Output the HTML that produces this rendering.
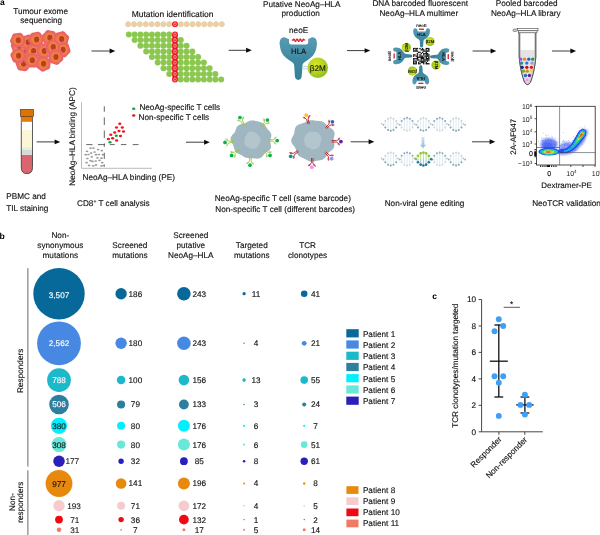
<!DOCTYPE html>
<html><head><meta charset="utf-8"><title>Figure</title>
<style>
html,body{margin:0;padding:0;background:#fff;}
body{width:600px;height:535px;overflow:hidden;font-family:"Liberation Sans",sans-serif;}
svg{display:block;font-family:"Liberation Sans",sans-serif;}
</style></head><body>
<svg width="600" height="535" viewBox="0 0 600 535" text-rendering="geometricPrecision">
<rect width="600" height="535" fill="#fff"/>
<g style="opacity:0.9999">
<defs>
<radialGradient id="tc" cx="50%" cy="50%" r="50%">
<stop offset="0" stop-color="#f4923a"/><stop offset="0.45" stop-color="#f2823f"/><stop offset="0.72" stop-color="#ec6a58"/><stop offset="0.9" stop-color="#e85d6b"/><stop offset="1" stop-color="#ee7c88"/>
</radialGradient>
<linearGradient id="hla" x1="0" y1="0" x2="0" y2="1">
<stop offset="0" stop-color="#5a9cb2"/><stop offset="0.5" stop-color="#3f8aa3"/><stop offset="1" stop-color="#357f99"/>
</linearGradient>
<radialGradient id="b2m" cx="40%" cy="35%" r="65%">
<stop offset="0" stop-color="#d6e62a"/><stop offset="0.6" stop-color="#b4d322"/><stop offset="1" stop-color="#8fbf1f"/>
</radialGradient>
<linearGradient id="darr" x1="0" y1="0" x2="0" y2="1">
<stop offset="0" stop-color="#d4e4f4"/><stop offset="1" stop-color="#8fb8e0"/>
</linearGradient>
<filter id="bl1" x="-30%" y="-30%" width="160%" height="160%"><feGaussianBlur stdDeviation="0.6"/></filter>
<filter id="bl2" x="-30%" y="-30%" width="160%" height="160%"><feGaussianBlur stdDeviation="1.2"/></filter>
<filter id="bl4" x="-10%" y="-30%" width="120%" height="160%"><feGaussianBlur stdDeviation="0.5"/></filter>
<filter id="bl3" x="-30%" y="-30%" width="160%" height="160%"><feGaussianBlur stdDeviation="0.35"/></filter>

</defs>
<text x="0" y="4.7" font-size="8.5" text-anchor="start" fill="#000" stroke="#000" stroke-width="0" font-weight="bold" >a</text>
<text x="40.6" y="14.2" font-size="8.2" text-anchor="middle" fill="#111" stroke="#111" stroke-width="0.14" font-weight="normal" >Tumour exome</text>
<text x="41.2" y="23.3" font-size="8.2" text-anchor="middle" fill="#111" stroke="#111" stroke-width="0.14" font-weight="normal" >sequencing</text>
<path d="M33.51,50.50 L33.08,51.70 L32.42,52.75 L31.87,53.75 L31.48,54.84 L31.02,56.02 L30.23,57.01 L29.10,57.56 L27.83,57.66 L26.63,57.61 L25.50,57.69 L24.32,57.93 L23.05,58.03 L21.84,57.67 L20.91,56.82 L20.27,55.73 L19.72,54.70 L19.02,53.80 L18.21,52.87 L17.59,51.75 L17.49,50.50 L17.92,49.30 L18.58,48.25 L19.13,47.25 L19.52,46.16 L19.98,44.98 L20.77,43.99 L21.90,43.44 L23.17,43.34 L24.37,43.39 L25.50,43.31 L26.68,43.07 L27.95,42.97 L29.16,43.33 L30.09,44.18 L30.73,45.27 L31.28,46.30 L31.98,47.20 L32.79,48.13 L33.41,49.25Z" fill="url(#tc)" filter="url(#bl3)"/>
<ellipse cx="25.8" cy="50.5" rx="2.6" ry="3" fill="#b9401f" filter="url(#bl3)"/>
<path d="M46.77,57.50 L46.73,58.76 L46.16,59.89 L45.33,60.83 L44.58,61.70 L43.99,62.69 L43.35,63.76 L42.45,64.66 L41.26,65.08 L39.99,65.00 L38.80,64.73 L37.68,64.58 L36.49,64.60 L35.23,64.51 L34.06,64.02 L33.24,63.06 L32.77,61.88 L32.42,60.75 L31.92,59.73 L31.29,58.69 L30.83,57.50 L30.87,56.24 L31.44,55.11 L32.27,54.17 L33.02,53.30 L33.61,52.31 L34.25,51.24 L35.15,50.34 L36.34,49.92 L37.61,50.00 L38.80,50.27 L39.92,50.42 L41.11,50.40 L42.37,50.49 L43.54,50.98 L44.36,51.94 L44.83,53.12 L45.18,54.25 L45.68,55.27 L46.31,56.31Z" fill="url(#tc)" filter="url(#bl3)"/>
<ellipse cx="39.099999999999994" cy="57.5" rx="2.6" ry="3" fill="#b9401f" filter="url(#bl3)"/>
<path d="M62.23,42.00 L62.08,43.12 L62.10,44.31 L62.01,45.57 L61.52,46.74 L60.56,47.56 L59.38,48.03 L58.25,48.38 L57.23,48.88 L56.19,49.51 L55.00,49.97 L53.74,49.93 L52.61,49.36 L51.67,48.53 L50.80,47.78 L49.81,47.19 L48.74,46.55 L47.84,45.65 L47.42,44.46 L47.50,43.19 L47.77,42.00 L47.92,40.88 L47.90,39.69 L47.99,38.43 L48.48,37.26 L49.44,36.44 L50.62,35.97 L51.75,35.62 L52.77,35.12 L53.81,34.49 L55.00,34.03 L56.26,34.07 L57.39,34.64 L58.33,35.47 L59.20,36.22 L60.19,36.81 L61.26,37.45 L62.16,38.35 L62.58,39.54 L62.50,40.81Z" fill="url(#tc)" filter="url(#bl3)"/>
<ellipse cx="55.3" cy="42" rx="2.6" ry="3" fill="#b9401f" filter="url(#bl3)"/>
<path d="M26.50,46.30 L26.65,47.56 L26.24,48.75 L25.41,49.72 L24.52,50.53 L23.78,51.38 L23.12,52.38 L22.29,53.35 L21.19,53.96 L19.92,54.02 L18.70,53.70 L17.58,53.36 L16.45,53.22 L15.22,53.13 L14.00,52.77 L13.04,51.96 L12.49,50.81 L12.21,49.61 L11.90,48.51 L11.40,47.46 L10.90,46.30 L10.75,45.04 L11.16,43.85 L11.99,42.88 L12.88,42.07 L13.62,41.22 L14.28,40.22 L15.11,39.25 L16.21,38.64 L17.48,38.58 L18.70,38.90 L19.82,39.24 L20.95,39.38 L22.18,39.47 L23.40,39.83 L24.36,40.64 L24.91,41.79 L25.19,42.99 L25.50,44.09 L26.00,45.14Z" fill="url(#tc)" filter="url(#bl3)"/>
<ellipse cx="19.0" cy="46.3" rx="2.6" ry="3" fill="#b9401f" filter="url(#bl3)"/>
<path d="M35.50,42.30 L35.09,43.42 L34.86,44.53 L34.73,45.73 L34.43,46.97 L33.69,47.99 L32.57,48.59 L31.34,48.86 L30.21,49.10 L29.14,49.51 L28.00,50.00 L26.75,50.22 L25.53,49.90 L24.53,49.11 L23.73,48.17 L22.94,47.36 L22.00,46.66 L21.02,45.86 L20.34,44.79 L20.20,43.54 L20.50,42.30 L20.91,41.18 L21.14,40.07 L21.27,38.87 L21.57,37.63 L22.31,36.61 L23.43,36.01 L24.66,35.74 L25.79,35.50 L26.86,35.09 L28.00,34.60 L29.25,34.38 L30.47,34.70 L31.47,35.49 L32.27,36.43 L33.06,37.24 L34.00,37.94 L34.98,38.74 L35.66,39.81 L35.80,41.06Z" fill="url(#tc)" filter="url(#bl3)"/>
<ellipse cx="28.3" cy="42.3" rx="2.6" ry="3" fill="#b9401f" filter="url(#bl3)"/>
<path d="M25.94,40.30 L25.46,41.48 L24.85,42.53 L24.40,43.56 L24.07,44.71 L23.59,45.89 L22.73,46.82 L21.56,47.28 L20.29,47.35 L19.12,47.37 L18.00,47.56 L16.80,47.85 L15.53,47.90 L14.36,47.44 L13.48,46.53 L12.84,45.46 L12.22,44.50 L11.43,43.65 L10.60,42.70 L10.05,41.56 L10.06,40.30 L10.54,39.12 L11.15,38.07 L11.60,37.04 L11.93,35.89 L12.41,34.71 L13.27,33.78 L14.44,33.32 L15.71,33.25 L16.88,33.23 L18.00,33.04 L19.20,32.75 L20.47,32.70 L21.64,33.16 L22.52,34.07 L23.16,35.14 L23.78,36.10 L24.57,36.95 L25.40,37.90 L25.95,39.04Z" fill="url(#tc)" filter="url(#bl3)"/>
<ellipse cx="18.3" cy="40.3" rx="2.6" ry="3" fill="#b9401f" filter="url(#bl3)"/>
<path d="M57.36,37.70 L57.54,38.96 L57.17,40.16 L56.35,41.14 L55.44,41.94 L54.67,42.77 L54.00,43.75 L53.18,44.73 L52.09,45.36 L50.83,45.45 L49.60,45.14 L48.48,44.77 L47.36,44.59 L46.14,44.49 L44.91,44.16 L43.92,43.38 L43.36,42.24 L43.08,41.02 L42.81,39.91 L42.34,38.85 L41.84,37.70 L41.66,36.44 L42.03,35.24 L42.85,34.26 L43.76,33.46 L44.53,32.63 L45.20,31.65 L46.02,30.67 L47.11,30.04 L48.37,29.95 L49.60,30.26 L50.72,30.63 L51.84,30.81 L53.06,30.91 L54.29,31.24 L55.28,32.02 L55.84,33.16 L56.12,34.38 L56.39,35.49 L56.86,36.55Z" fill="url(#tc)" filter="url(#bl3)"/>
<ellipse cx="49.9" cy="37.7" rx="2.6" ry="3" fill="#b9401f" filter="url(#bl3)"/>
<path d="M68.88,39.00 L68.43,40.13 L68.12,41.22 L67.96,42.40 L67.68,43.63 L67.00,44.70 L65.91,45.35 L64.68,45.63 L63.51,45.81 L62.43,46.15 L61.30,46.62 L60.05,46.88 L58.82,46.63 L57.79,45.88 L57.00,44.92 L56.25,44.05 L55.35,43.32 L54.39,42.52 L53.65,41.48 L53.44,40.24 L53.72,39.00 L54.17,37.87 L54.48,36.78 L54.64,35.60 L54.92,34.37 L55.60,33.30 L56.69,32.65 L57.92,32.37 L59.09,32.19 L60.17,31.85 L61.30,31.38 L62.55,31.12 L63.78,31.37 L64.81,32.12 L65.60,33.08 L66.35,33.95 L67.25,34.68 L68.21,35.48 L68.95,36.52 L69.16,37.76Z" fill="url(#tc)" filter="url(#bl3)"/>
<ellipse cx="61.599999999999994" cy="39" rx="2.6" ry="3" fill="#b9401f" filter="url(#bl3)"/>
<path d="M70.41,49.70 L70.62,50.95 L70.30,52.17 L69.50,53.17 L68.57,53.96 L67.76,54.76 L67.06,55.71 L66.26,56.68 L65.19,57.36 L63.94,57.50 L62.70,57.19 L61.58,56.79 L60.47,56.56 L59.27,56.44 L58.03,56.13 L57.01,55.39 L56.41,54.27 L56.14,53.04 L55.90,51.91 L55.49,50.84 L54.99,49.70 L54.78,48.45 L55.10,47.23 L55.90,46.23 L56.83,45.44 L57.64,44.64 L58.34,43.69 L59.14,42.72 L60.21,42.04 L61.46,41.90 L62.70,42.21 L63.82,42.61 L64.93,42.84 L66.13,42.96 L67.37,43.27 L68.39,44.01 L68.99,45.13 L69.26,46.36 L69.50,47.49 L69.91,48.56Z" fill="url(#tc)" filter="url(#bl3)"/>
<ellipse cx="63.0" cy="49.7" rx="2.6" ry="3" fill="#b9401f" filter="url(#bl3)"/>
<path d="M41.09,51.00 L40.58,52.15 L40.10,53.21 L39.80,54.31 L39.53,55.52 L38.97,56.67 L38.00,57.47 L36.77,57.81 L35.54,57.91 L34.42,58.07 L33.30,58.41 L32.08,58.73 L30.81,58.66 L29.71,58.04 L28.89,57.07 L28.22,56.08 L27.47,55.24 L26.57,54.43 L25.75,53.45 L25.35,52.26 L25.51,51.00 L26.02,49.85 L26.50,48.79 L26.80,47.69 L27.07,46.48 L27.63,45.33 L28.60,44.53 L29.83,44.19 L31.06,44.09 L32.18,43.93 L33.30,43.59 L34.52,43.27 L35.79,43.34 L36.89,43.96 L37.71,44.93 L38.38,45.92 L39.13,46.76 L40.03,47.57 L40.85,48.55 L41.25,49.74Z" fill="url(#tc)" filter="url(#bl3)"/>
<ellipse cx="33.599999999999994" cy="51" rx="2.6" ry="3" fill="#b9401f" filter="url(#bl3)"/>
<path d="M51.79,51.00 L51.95,52.26 L51.54,53.45 L50.72,54.42 L49.83,55.23 L49.08,56.08 L48.42,57.08 L47.59,58.05 L46.49,58.66 L45.22,58.72 L44.00,58.41 L42.88,58.06 L41.75,57.91 L40.52,57.82 L39.30,57.47 L38.33,56.67 L37.78,55.52 L37.51,54.31 L37.20,53.21 L36.71,52.15 L36.21,51.00 L36.05,49.74 L36.46,48.55 L37.28,47.58 L38.17,46.77 L38.92,45.92 L39.58,44.92 L40.41,43.95 L41.51,43.34 L42.78,43.28 L44.00,43.59 L45.12,43.94 L46.25,44.09 L47.48,44.18 L48.70,44.53 L49.67,45.33 L50.22,46.48 L50.49,47.69 L50.80,48.79 L51.29,49.85Z" fill="url(#tc)" filter="url(#bl3)"/>
<ellipse cx="44.3" cy="51" rx="2.6" ry="3" fill="#b9401f" filter="url(#bl3)"/>
<path d="M31.15,63.70 L31.26,64.96 L30.80,66.14 L29.97,67.10 L29.10,67.92 L28.40,68.80 L27.75,69.83 L26.91,70.79 L25.78,71.35 L24.51,71.37 L23.30,71.05 L22.18,70.76 L21.04,70.65 L19.80,70.57 L18.58,70.19 L17.65,69.35 L17.13,68.18 L16.84,66.99 L16.49,65.91 L15.96,64.86 L15.45,63.70 L15.34,62.44 L15.80,61.26 L16.63,60.30 L17.50,59.48 L18.20,58.60 L18.85,57.57 L19.69,56.61 L20.82,56.05 L22.09,56.03 L23.30,56.35 L24.42,56.64 L25.56,56.75 L26.80,56.83 L28.02,57.21 L28.95,58.05 L29.47,59.22 L29.76,60.41 L30.11,61.49 L30.64,62.54Z" fill="url(#tc)" filter="url(#bl3)"/>
<ellipse cx="23.6" cy="63.7" rx="2.6" ry="3" fill="#b9401f" filter="url(#bl3)"/>
<path d="M44.11,39.40 L43.60,40.56 L43.10,41.61 L42.78,42.70 L42.50,43.91 L41.96,45.06 L41.01,45.88 L39.78,46.24 L38.55,46.32 L37.42,46.46 L36.30,46.79 L35.08,47.11 L33.81,47.06 L32.70,46.46 L31.87,45.49 L31.21,44.49 L30.48,43.63 L29.59,42.82 L28.77,41.85 L28.35,40.66 L28.49,39.40 L29.00,38.24 L29.50,37.19 L29.82,36.10 L30.10,34.89 L30.64,33.74 L31.59,32.92 L32.82,32.56 L34.05,32.48 L35.18,32.34 L36.30,32.01 L37.52,31.69 L38.79,31.74 L39.90,32.34 L40.73,33.31 L41.39,34.31 L42.12,35.17 L43.01,35.98 L43.83,36.95 L44.25,38.14Z" fill="url(#tc)" filter="url(#bl3)"/>
<ellipse cx="36.599999999999994" cy="39.4" rx="2.6" ry="3" fill="#b9401f" filter="url(#bl3)"/>
<path d="M60.20,47.00 L60.44,48.18 L60.54,49.45 L60.17,50.65 L59.31,51.59 L58.23,52.23 L57.20,52.78 L56.31,53.49 L55.37,54.30 L54.25,54.91 L53.00,55.00 L51.80,54.57 L50.75,53.92 L49.75,53.37 L48.65,52.98 L47.48,52.52 L46.49,51.73 L45.94,50.60 L45.84,49.33 L45.90,48.13 L45.80,47.00 L45.56,45.82 L45.46,44.55 L45.83,43.35 L46.69,42.41 L47.77,41.77 L48.80,41.22 L49.69,40.51 L50.63,39.70 L51.75,39.09 L53.00,39.00 L54.20,39.43 L55.25,40.08 L56.25,40.63 L57.35,41.02 L58.52,41.48 L59.51,42.27 L60.06,43.40 L60.16,44.67 L60.10,45.87Z" fill="url(#tc)" filter="url(#bl3)"/>
<ellipse cx="53.3" cy="47" rx="2.6" ry="3" fill="#b9401f" filter="url(#bl3)"/>
<path d="M26.22,55.70 L26.25,56.96 L25.73,58.11 L24.89,59.06 L24.08,59.90 L23.44,60.84 L22.81,61.90 L21.93,62.83 L20.77,63.32 L19.50,63.28 L18.30,62.98 L17.18,62.76 L16.02,62.73 L14.76,62.65 L13.57,62.21 L12.70,61.30 L12.21,60.13 L11.89,58.97 L11.46,57.92 L10.87,56.88 L10.38,55.70 L10.35,54.44 L10.87,53.29 L11.71,52.34 L12.52,51.50 L13.16,50.56 L13.79,49.50 L14.67,48.57 L15.83,48.08 L17.10,48.12 L18.30,48.42 L19.42,48.64 L20.58,48.67 L21.84,48.75 L23.03,49.19 L23.90,50.10 L24.39,51.27 L24.71,52.43 L25.14,53.48 L25.73,54.52Z" fill="url(#tc)" filter="url(#bl3)"/>
<ellipse cx="18.6" cy="55.7" rx="2.6" ry="3" fill="#b9401f" filter="url(#bl3)"/>
<path d="M40.05,60.30 L39.83,61.54 L39.17,62.63 L38.41,63.57 L37.82,64.53 L37.32,65.62 L36.65,66.71 L35.66,67.47 L34.41,67.73 L33.16,67.61 L32.00,67.45 L30.86,67.48 L29.63,67.59 L28.37,67.43 L27.29,66.78 L26.57,65.73 L26.11,64.58 L25.63,63.55 L24.97,62.58 L24.29,61.52 L23.95,60.30 L24.17,59.06 L24.83,57.97 L25.59,57.03 L26.18,56.07 L26.68,54.98 L27.35,53.89 L28.34,53.13 L29.59,52.87 L30.84,52.99 L32.00,53.15 L33.14,53.12 L34.37,53.01 L35.63,53.17 L36.71,53.82 L37.43,54.87 L37.89,56.02 L38.37,57.05 L39.03,58.02 L39.71,59.08Z" fill="url(#tc)" filter="url(#bl3)"/>
<ellipse cx="32.3" cy="60.3" rx="2.6" ry="3" fill="#b9401f" filter="url(#bl3)"/>
<path d="M50.57,63.70 L50.36,64.82 L50.34,65.99 L50.26,67.25 L49.81,68.43 L48.90,69.30 L47.72,69.79 L46.56,70.11 L45.52,70.54 L44.48,71.14 L43.30,71.63 L42.04,71.65 L40.89,71.12 L39.95,70.28 L39.10,69.48 L38.15,68.85 L37.09,68.21 L36.16,67.34 L35.69,66.17 L35.73,64.90 L36.03,63.70 L36.24,62.58 L36.26,61.41 L36.34,60.15 L36.79,58.97 L37.70,58.10 L38.88,57.61 L40.04,57.29 L41.08,56.86 L42.12,56.26 L43.30,55.77 L44.56,55.75 L45.71,56.28 L46.65,57.12 L47.50,57.92 L48.45,58.55 L49.51,59.19 L50.44,60.06 L50.91,61.23 L50.87,62.50Z" fill="url(#tc)" filter="url(#bl3)"/>
<ellipse cx="43.599999999999994" cy="63.7" rx="2.6" ry="3" fill="#b9401f" filter="url(#bl3)"/>
<path d="M63.15,57.00 L63.46,58.23 L63.36,59.49 L62.72,60.57 L61.74,61.39 L60.77,62.07 L59.95,62.85 L59.15,63.76 L58.16,64.57 L56.96,64.94 L55.70,64.75 L54.55,64.25 L53.49,63.79 L52.37,63.53 L51.15,63.26 L50.02,62.68 L49.25,61.69 L48.92,60.45 L48.82,59.24 L48.62,58.12 L48.25,57.00 L47.94,55.77 L48.04,54.51 L48.68,53.43 L49.66,52.61 L50.63,51.93 L51.45,51.15 L52.25,50.24 L53.24,49.43 L54.44,49.06 L55.70,49.25 L56.85,49.75 L57.91,50.21 L59.03,50.47 L60.25,50.74 L61.38,51.32 L62.15,52.31 L62.48,53.55 L62.58,54.76 L62.78,55.88Z" fill="url(#tc)" filter="url(#bl3)"/>
<ellipse cx="56.0" cy="57" rx="2.6" ry="3" fill="#b9401f" filter="url(#bl3)"/>
<line x1="91.5" y1="51" x2="111" y2="51" stroke="#333" stroke-width="0.95"/>
<path d="M115.3,51 L109.6,48.55 L109.6,53.45 Z" fill="#0a0a0a"/>
<text x="172.6" y="16.8" font-size="8.45" text-anchor="middle" fill="#111" stroke="#111" stroke-width="0.14" font-weight="normal" >Mutation identification</text>
<circle cx="128.20" cy="24.2" r="2.6" fill="#f5c9a9" stroke="#c9da9c" stroke-width="0.6"/>
<circle cx="134.05" cy="24.2" r="2.6" fill="#f5c9a9" stroke="#c9da9c" stroke-width="0.6"/>
<circle cx="139.90" cy="24.2" r="2.6" fill="#f5c9a9" stroke="#c9da9c" stroke-width="0.6"/>
<circle cx="145.75" cy="24.2" r="2.6" fill="#f5c9a9" stroke="#c9da9c" stroke-width="0.6"/>
<circle cx="151.60" cy="24.2" r="2.6" fill="#f5c9a9" stroke="#c9da9c" stroke-width="0.6"/>
<circle cx="157.45" cy="24.2" r="2.6" fill="#f5c9a9" stroke="#c9da9c" stroke-width="0.6"/>
<circle cx="163.30" cy="24.2" r="2.6" fill="#f5c9a9" stroke="#c9da9c" stroke-width="0.6"/>
<circle cx="169.15" cy="24.2" r="2.6" fill="#f5c9a9" stroke="#c9da9c" stroke-width="0.6"/>
<circle cx="180.85" cy="24.2" r="2.6" fill="#f5c9a9" stroke="#c9da9c" stroke-width="0.6"/>
<circle cx="186.70" cy="24.2" r="2.6" fill="#f5c9a9" stroke="#c9da9c" stroke-width="0.6"/>
<circle cx="192.55" cy="24.2" r="2.6" fill="#f5c9a9" stroke="#c9da9c" stroke-width="0.6"/>
<circle cx="198.40" cy="24.2" r="2.6" fill="#f5c9a9" stroke="#c9da9c" stroke-width="0.6"/>
<circle cx="204.25" cy="24.2" r="2.6" fill="#f5c9a9" stroke="#c9da9c" stroke-width="0.6"/>
<circle cx="210.10" cy="24.2" r="2.6" fill="#f5c9a9" stroke="#c9da9c" stroke-width="0.6"/>
<circle cx="215.95" cy="24.2" r="2.6" fill="#f5c9a9" stroke="#c9da9c" stroke-width="0.6"/>
<circle cx="221.80" cy="24.2" r="2.6" fill="#f5c9a9" stroke="#c9da9c" stroke-width="0.6"/>
<circle cx="128.84" cy="34.50" r="3.0" fill="#8cc84f"/>
<circle cx="134.61" cy="34.50" r="3.0" fill="#8cc84f"/>
<circle cx="140.38" cy="34.50" r="3.0" fill="#8cc84f"/>
<circle cx="146.15" cy="34.50" r="3.0" fill="#8cc84f"/>
<circle cx="151.92" cy="34.50" r="3.0" fill="#8cc84f"/>
<circle cx="157.69" cy="34.50" r="3.0" fill="#8cc84f"/>
<circle cx="163.46" cy="34.50" r="3.0" fill="#8cc84f"/>
<circle cx="169.23" cy="34.50" r="3.0" fill="#8cc84f"/>
<circle cx="134.61" cy="40.12" r="3.0" fill="#8cc84f"/>
<circle cx="140.38" cy="40.12" r="3.0" fill="#8cc84f"/>
<circle cx="146.15" cy="40.12" r="3.0" fill="#8cc84f"/>
<circle cx="151.92" cy="40.12" r="3.0" fill="#8cc84f"/>
<circle cx="157.69" cy="40.12" r="3.0" fill="#8cc84f"/>
<circle cx="163.46" cy="40.12" r="3.0" fill="#8cc84f"/>
<circle cx="169.23" cy="40.12" r="3.0" fill="#8cc84f"/>
<circle cx="180.77" cy="40.12" r="3.0" fill="#8cc84f"/>
<circle cx="140.38" cy="45.75" r="3.0" fill="#8cc84f"/>
<circle cx="146.15" cy="45.75" r="3.0" fill="#8cc84f"/>
<circle cx="151.92" cy="45.75" r="3.0" fill="#8cc84f"/>
<circle cx="157.69" cy="45.75" r="3.0" fill="#8cc84f"/>
<circle cx="163.46" cy="45.75" r="3.0" fill="#8cc84f"/>
<circle cx="169.23" cy="45.75" r="3.0" fill="#8cc84f"/>
<circle cx="180.77" cy="45.75" r="3.0" fill="#8cc84f"/>
<circle cx="186.54" cy="45.75" r="3.0" fill="#8cc84f"/>
<circle cx="146.15" cy="51.38" r="3.0" fill="#8cc84f"/>
<circle cx="151.92" cy="51.38" r="3.0" fill="#8cc84f"/>
<circle cx="157.69" cy="51.38" r="3.0" fill="#8cc84f"/>
<circle cx="163.46" cy="51.38" r="3.0" fill="#8cc84f"/>
<circle cx="169.23" cy="51.38" r="3.0" fill="#8cc84f"/>
<circle cx="180.77" cy="51.38" r="3.0" fill="#8cc84f"/>
<circle cx="186.54" cy="51.38" r="3.0" fill="#8cc84f"/>
<circle cx="192.31" cy="51.38" r="3.0" fill="#8cc84f"/>
<circle cx="151.92" cy="57.00" r="3.0" fill="#8cc84f"/>
<circle cx="157.69" cy="57.00" r="3.0" fill="#8cc84f"/>
<circle cx="163.46" cy="57.00" r="3.0" fill="#8cc84f"/>
<circle cx="169.23" cy="57.00" r="3.0" fill="#8cc84f"/>
<circle cx="180.77" cy="57.00" r="3.0" fill="#8cc84f"/>
<circle cx="186.54" cy="57.00" r="3.0" fill="#8cc84f"/>
<circle cx="192.31" cy="57.00" r="3.0" fill="#8cc84f"/>
<circle cx="198.08" cy="57.00" r="3.0" fill="#8cc84f"/>
<circle cx="157.69" cy="62.62" r="3.0" fill="#8cc84f"/>
<circle cx="163.46" cy="62.62" r="3.0" fill="#8cc84f"/>
<circle cx="169.23" cy="62.62" r="3.0" fill="#8cc84f"/>
<circle cx="180.77" cy="62.62" r="3.0" fill="#8cc84f"/>
<circle cx="186.54" cy="62.62" r="3.0" fill="#8cc84f"/>
<circle cx="192.31" cy="62.62" r="3.0" fill="#8cc84f"/>
<circle cx="198.08" cy="62.62" r="3.0" fill="#8cc84f"/>
<circle cx="203.85" cy="62.62" r="3.0" fill="#8cc84f"/>
<circle cx="163.46" cy="68.25" r="3.0" fill="#8cc84f"/>
<circle cx="169.23" cy="68.25" r="3.0" fill="#8cc84f"/>
<circle cx="180.77" cy="68.25" r="3.0" fill="#8cc84f"/>
<circle cx="186.54" cy="68.25" r="3.0" fill="#8cc84f"/>
<circle cx="192.31" cy="68.25" r="3.0" fill="#8cc84f"/>
<circle cx="198.08" cy="68.25" r="3.0" fill="#8cc84f"/>
<circle cx="203.85" cy="68.25" r="3.0" fill="#8cc84f"/>
<circle cx="209.62" cy="68.25" r="3.0" fill="#8cc84f"/>
<circle cx="169.23" cy="73.88" r="3.0" fill="#8cc84f"/>
<circle cx="180.77" cy="73.88" r="3.0" fill="#8cc84f"/>
<circle cx="186.54" cy="73.88" r="3.0" fill="#8cc84f"/>
<circle cx="192.31" cy="73.88" r="3.0" fill="#8cc84f"/>
<circle cx="198.08" cy="73.88" r="3.0" fill="#8cc84f"/>
<circle cx="203.85" cy="73.88" r="3.0" fill="#8cc84f"/>
<circle cx="209.62" cy="73.88" r="3.0" fill="#8cc84f"/>
<circle cx="215.39" cy="73.88" r="3.0" fill="#8cc84f"/>
<circle cx="180.77" cy="79.50" r="3.0" fill="#8cc84f"/>
<circle cx="186.54" cy="79.50" r="3.0" fill="#8cc84f"/>
<circle cx="192.31" cy="79.50" r="3.0" fill="#8cc84f"/>
<circle cx="198.08" cy="79.50" r="3.0" fill="#8cc84f"/>
<circle cx="203.85" cy="79.50" r="3.0" fill="#8cc84f"/>
<circle cx="209.62" cy="79.50" r="3.0" fill="#8cc84f"/>
<circle cx="215.39" cy="79.50" r="3.0" fill="#8cc84f"/>
<circle cx="221.16" cy="79.50" r="3.0" fill="#8cc84f"/>
<rect x="172.4" y="34.5" width="5.2" height="45" fill="#ee1c25"/>
<circle cx="175.0" cy="34.50" r="3.0" fill="#ee1c25"/>
<ellipse cx="175.0" cy="34.50" rx="1.25" ry="1.6" fill="none" stroke="#fcd9d2" stroke-width="0.6"/>
<circle cx="175.0" cy="40.12" r="3.0" fill="#ee1c25"/>
<ellipse cx="175.0" cy="40.12" rx="1.25" ry="1.6" fill="none" stroke="#fcd9d2" stroke-width="0.6"/>
<circle cx="175.0" cy="45.75" r="3.0" fill="#ee1c25"/>
<ellipse cx="175.0" cy="45.75" rx="1.25" ry="1.6" fill="none" stroke="#fcd9d2" stroke-width="0.6"/>
<circle cx="175.0" cy="51.38" r="3.0" fill="#ee1c25"/>
<ellipse cx="175.0" cy="51.38" rx="1.25" ry="1.6" fill="none" stroke="#fcd9d2" stroke-width="0.6"/>
<circle cx="175.0" cy="57.00" r="3.0" fill="#ee1c25"/>
<ellipse cx="175.0" cy="57.00" rx="1.25" ry="1.6" fill="none" stroke="#fcd9d2" stroke-width="0.6"/>
<circle cx="175.0" cy="62.62" r="3.0" fill="#ee1c25"/>
<ellipse cx="175.0" cy="62.62" rx="1.25" ry="1.6" fill="none" stroke="#fcd9d2" stroke-width="0.6"/>
<circle cx="175.0" cy="68.25" r="3.0" fill="#ee1c25"/>
<ellipse cx="175.0" cy="68.25" rx="1.25" ry="1.6" fill="none" stroke="#fcd9d2" stroke-width="0.6"/>
<circle cx="175.0" cy="73.88" r="3.0" fill="#ee1c25"/>
<ellipse cx="175.0" cy="73.88" rx="1.25" ry="1.6" fill="none" stroke="#fcd9d2" stroke-width="0.6"/>
<circle cx="175.0" cy="79.50" r="3.0" fill="#ee1c25"/>
<ellipse cx="175.0" cy="79.50" rx="1.25" ry="1.6" fill="none" stroke="#fcd9d2" stroke-width="0.6"/>
<circle cx="175.0" cy="24.2" r="3.0" fill="#ee1c25"/>
<ellipse cx="175.0" cy="24.2" rx="1.25" ry="1.6" fill="none" stroke="#fcd9d2" stroke-width="0.6"/>
<line x1="228.7" y1="50.3" x2="247.5" y2="50.3" stroke="#333" stroke-width="0.95"/>
<path d="M251.8,50.3 L246.1,47.849999999999994 L246.1,52.75 Z" fill="#0a0a0a"/>
<text x="301.7" y="6.5" font-size="8.2" text-anchor="middle" fill="#111" stroke="#111" stroke-width="0.14" font-weight="normal" >Putative NeoAg–HLA</text>
<text x="300.7" y="15.7" font-size="8.2" text-anchor="middle" fill="#111" stroke="#111" stroke-width="0.14" font-weight="normal" >production</text>
<text x="298.6" y="33.3" font-size="8.2" text-anchor="middle" fill="#111" stroke="#111" stroke-width="0.14" font-weight="normal" >neoE</text>
<g transform="translate(270,35)"><path d="M14.6,2.2 C11,1.6 9.2,5.5 9.7,9.6 C10.2,14 11,17.3 13.6,20.4 C16.2,23.5 19.5,25.3 22.2,27.2 C23.6,28.2 24.2,29.2 24.2,30.8 L24.9,41.3 C25,43.6 26.5,44.9 28.3,44.9 C30.1,44.9 31.5,43.6 31.7,41.3 L32.5,30.8 C32.5,29.2 33.1,28.2 34.5,27.2 C37.2,25.3 40.4,23.5 43,20.4 C45.6,17.3 46.4,14 46.9,9.6 C47.4,5.5 45.6,1.6 42,2.2 C40.2,2.5 39.6,4 38,4 L19,4 C17.4,4 16.6,2.5 14.6,2.2 Z" fill="url(#hla)"/>
<rect x="19" y="0.5" width="19.2" height="8.9" rx="1.8" fill="#fff"/></g>
<path d="M292.2,40.7 L293.9,39.3 L295.5,41.3 L297.1,39.1 L298.7,41.3 L300.3,39.1 L301.9,41.3 L303.4,39.4 L304.6,40.4" fill="none" stroke="#d2141c" stroke-width="1.5" stroke-linejoin="round"/>
<line x1="289.5" y1="40.3" x2="307.5" y2="40.3" stroke="#f2b0b0" stroke-width="0.4"/>
<text x="298.6" y="54.3" font-size="7.8" text-anchor="middle" fill="#111" stroke="#111" stroke-width="0.14" font-weight="normal" >HLA</text>
<rect x="302" y="66" width="7" height="1" fill="#b8d6e4"/><rect x="302" y="68.4" width="7" height="1" fill="#b8d6e4"/>
<circle cx="317.8" cy="67.8" r="10.2" fill="url(#b2m)"/>
<text x="317.9" y="70.8" font-size="8.2" text-anchor="middle" fill="#151a08" stroke="#151a08" stroke-width="0.14" font-weight="normal" >β2M</text>
<line x1="347" y1="50.6" x2="366" y2="50.6" stroke="#333" stroke-width="0.95"/>
<path d="M370.3,50.6 L364.6,48.15 L364.6,53.050000000000004 Z" fill="#0a0a0a"/>
<text x="420.2" y="6.4" font-size="8.2" text-anchor="middle" fill="#111" stroke="#111" stroke-width="0.14" font-weight="normal" >DNA barcoded fluorescent</text>
<text x="418.8" y="15.7" font-size="8.2" text-anchor="middle" fill="#111" stroke="#111" stroke-width="0.14" font-weight="normal" >NeoAg–HLA multimer</text>
<g transform="rotate(0 421.2 56.3)">
<g transform="translate(408.855,27.2) scale(0.45)"><path d="M14.6,2.2 C11,1.6 9.2,5.5 9.7,9.6 C10.2,14 11,17.3 13.6,20.4 C16.2,23.5 19.5,25.3 22.2,27.2 C23.6,28.2 24.2,29.2 24.2,30.8 L24.9,41.3 C25,43.6 26.5,44.9 28.3,44.9 C30.1,44.9 31.5,43.6 31.7,41.3 L32.5,30.8 C32.5,29.2 33.1,28.2 34.5,27.2 C37.2,25.3 40.4,23.5 43,20.4 C45.6,17.3 46.4,14 46.9,9.6 C47.4,5.5 45.6,1.6 42,2.2 C40.2,2.5 39.6,4 38,4 L19,4 C17.4,4 16.6,2.5 14.6,2.2 Z" fill="url(#hla)"/>
<rect x="19" y="0.5" width="19.2" height="8.9" rx="1.8" fill="#fff"/></g>
<rect x="419.0" y="28.6" width="5" height="1.3" fill="#d81f26"/>
<circle cx="430.0" cy="41.5" r="4.6" fill="url(#b2m)"/>
<text x="421.5" y="35.7" font-size="4.3" text-anchor="middle" fill="#111" stroke="#111" stroke-width="0.14" font-weight="normal" >HLA</text>
<text x="421.5" y="26.6" font-size="4.4" text-anchor="middle" fill="#111" stroke="#111" stroke-width="0.14" font-weight="normal" >neoE</text>
<text x="430.0" y="43.0" font-size="4.3" text-anchor="middle" fill="#111" stroke="#111" stroke-width="0.14" font-weight="normal" >β2M</text>
</g>
<g transform="rotate(90 421.2 56.3)">
<g transform="translate(408.855,27.2) scale(0.45)"><path d="M14.6,2.2 C11,1.6 9.2,5.5 9.7,9.6 C10.2,14 11,17.3 13.6,20.4 C16.2,23.5 19.5,25.3 22.2,27.2 C23.6,28.2 24.2,29.2 24.2,30.8 L24.9,41.3 C25,43.6 26.5,44.9 28.3,44.9 C30.1,44.9 31.5,43.6 31.7,41.3 L32.5,30.8 C32.5,29.2 33.1,28.2 34.5,27.2 C37.2,25.3 40.4,23.5 43,20.4 C45.6,17.3 46.4,14 46.9,9.6 C47.4,5.5 45.6,1.6 42,2.2 C40.2,2.5 39.6,4 38,4 L19,4 C17.4,4 16.6,2.5 14.6,2.2 Z" fill="url(#hla)"/>
<rect x="19" y="0.5" width="19.2" height="8.9" rx="1.8" fill="#fff"/></g>
<rect x="419.0" y="28.6" width="5" height="1.3" fill="#d81f26"/>
<circle cx="430.0" cy="41.5" r="4.6" fill="url(#b2m)"/>
<text x="421.5" y="35.7" font-size="4.3" text-anchor="middle" fill="#111" stroke="#111" stroke-width="0.14" font-weight="normal" >HLA</text>
<text x="421.5" y="26.6" font-size="4.4" text-anchor="middle" fill="#111" stroke="#111" stroke-width="0.14" font-weight="normal" >neoE</text>
<text x="430.0" y="43.0" font-size="4.3" text-anchor="middle" fill="#111" stroke="#111" stroke-width="0.14" font-weight="normal" >β2M</text>
</g>
<g transform="rotate(180 421.2 56.3)">
<g transform="translate(408.855,27.2) scale(0.45)"><path d="M14.6,2.2 C11,1.6 9.2,5.5 9.7,9.6 C10.2,14 11,17.3 13.6,20.4 C16.2,23.5 19.5,25.3 22.2,27.2 C23.6,28.2 24.2,29.2 24.2,30.8 L24.9,41.3 C25,43.6 26.5,44.9 28.3,44.9 C30.1,44.9 31.5,43.6 31.7,41.3 L32.5,30.8 C32.5,29.2 33.1,28.2 34.5,27.2 C37.2,25.3 40.4,23.5 43,20.4 C45.6,17.3 46.4,14 46.9,9.6 C47.4,5.5 45.6,1.6 42,2.2 C40.2,2.5 39.6,4 38,4 L19,4 C17.4,4 16.6,2.5 14.6,2.2 Z" fill="url(#hla)"/>
<rect x="19" y="0.5" width="19.2" height="8.9" rx="1.8" fill="#fff"/></g>
<rect x="419.0" y="28.6" width="5" height="1.3" fill="#d81f26"/>
<circle cx="430.0" cy="41.5" r="4.6" fill="url(#b2m)"/>
<text x="421.5" y="35.7" font-size="4.3" text-anchor="middle" fill="#111" stroke="#111" stroke-width="0.14" font-weight="normal" >HLA</text>
<text x="421.5" y="26.6" font-size="4.4" text-anchor="middle" fill="#111" stroke="#111" stroke-width="0.14" font-weight="normal" >neoE</text>
<text x="430.0" y="43.0" font-size="4.3" text-anchor="middle" fill="#111" stroke="#111" stroke-width="0.14" font-weight="normal" >β2M</text>
</g>
<g transform="rotate(270 421.2 56.3)">
<g transform="translate(408.855,27.2) scale(0.45)"><path d="M14.6,2.2 C11,1.6 9.2,5.5 9.7,9.6 C10.2,14 11,17.3 13.6,20.4 C16.2,23.5 19.5,25.3 22.2,27.2 C23.6,28.2 24.2,29.2 24.2,30.8 L24.9,41.3 C25,43.6 26.5,44.9 28.3,44.9 C30.1,44.9 31.5,43.6 31.7,41.3 L32.5,30.8 C32.5,29.2 33.1,28.2 34.5,27.2 C37.2,25.3 40.4,23.5 43,20.4 C45.6,17.3 46.4,14 46.9,9.6 C47.4,5.5 45.6,1.6 42,2.2 C40.2,2.5 39.6,4 38,4 L19,4 C17.4,4 16.6,2.5 14.6,2.2 Z" fill="url(#hla)"/>
<rect x="19" y="0.5" width="19.2" height="8.9" rx="1.8" fill="#fff"/></g>
<rect x="419.0" y="28.6" width="5" height="1.3" fill="#d81f26"/>
<circle cx="430.0" cy="41.5" r="4.6" fill="url(#b2m)"/>
<text x="421.5" y="35.7" font-size="4.3" text-anchor="middle" fill="#111" stroke="#111" stroke-width="0.14" font-weight="normal" >HLA</text>
<text x="421.5" y="26.6" font-size="4.4" text-anchor="middle" fill="#111" stroke="#111" stroke-width="0.14" font-weight="normal" >neoE</text>
<text x="430.0" y="43.0" font-size="4.3" text-anchor="middle" fill="#111" stroke="#111" stroke-width="0.14" font-weight="normal" >β2M</text>
</g>
<g filter="url(#bl3)">
<rect x="413.00" y="47.90" width="1.36" height="1.36" fill="#111"/>
<rect x="413.00" y="49.16" width="1.36" height="1.36" fill="#111"/>
<rect x="413.00" y="50.42" width="1.36" height="1.36" fill="#111"/>
<rect x="413.00" y="54.21" width="1.36" height="1.36" fill="#111"/>
<rect x="413.00" y="55.47" width="1.36" height="1.36" fill="#111"/>
<rect x="413.00" y="57.99" width="1.36" height="1.36" fill="#111"/>
<rect x="413.00" y="59.25" width="1.36" height="1.36" fill="#111"/>
<rect x="413.00" y="60.52" width="1.36" height="1.36" fill="#111"/>
<rect x="413.00" y="61.78" width="1.36" height="1.36" fill="#111"/>
<rect x="413.00" y="63.04" width="1.36" height="1.36" fill="#111"/>
<rect x="414.26" y="47.90" width="1.36" height="1.36" fill="#111"/>
<rect x="414.26" y="49.16" width="1.36" height="1.36" fill="#111"/>
<rect x="414.26" y="50.42" width="1.36" height="1.36" fill="#111"/>
<rect x="414.26" y="54.21" width="1.36" height="1.36" fill="#111"/>
<rect x="414.26" y="57.99" width="1.36" height="1.36" fill="#111"/>
<rect x="414.26" y="60.52" width="1.36" height="1.36" fill="#111"/>
<rect x="414.26" y="61.78" width="1.36" height="1.36" fill="#111"/>
<rect x="414.26" y="63.04" width="1.36" height="1.36" fill="#111"/>
<rect x="415.52" y="47.90" width="1.36" height="1.36" fill="#111"/>
<rect x="415.52" y="49.16" width="1.36" height="1.36" fill="#111"/>
<rect x="415.52" y="50.42" width="1.36" height="1.36" fill="#111"/>
<rect x="415.52" y="55.47" width="1.36" height="1.36" fill="#111"/>
<rect x="415.52" y="57.99" width="1.36" height="1.36" fill="#111"/>
<rect x="415.52" y="60.52" width="1.36" height="1.36" fill="#111"/>
<rect x="415.52" y="61.78" width="1.36" height="1.36" fill="#111"/>
<rect x="415.52" y="63.04" width="1.36" height="1.36" fill="#111"/>
<rect x="416.78" y="47.90" width="1.36" height="1.36" fill="#111"/>
<rect x="416.78" y="50.42" width="1.36" height="1.36" fill="#111"/>
<rect x="416.78" y="52.95" width="1.36" height="1.36" fill="#111"/>
<rect x="416.78" y="54.21" width="1.36" height="1.36" fill="#111"/>
<rect x="416.78" y="55.47" width="1.36" height="1.36" fill="#111"/>
<rect x="416.78" y="56.73" width="1.36" height="1.36" fill="#111"/>
<rect x="416.78" y="57.99" width="1.36" height="1.36" fill="#111"/>
<rect x="416.78" y="59.25" width="1.36" height="1.36" fill="#111"/>
<rect x="418.05" y="51.68" width="1.36" height="1.36" fill="#111"/>
<rect x="418.05" y="56.73" width="1.36" height="1.36" fill="#111"/>
<rect x="418.05" y="59.25" width="1.36" height="1.36" fill="#111"/>
<rect x="418.05" y="61.78" width="1.36" height="1.36" fill="#111"/>
<rect x="418.05" y="63.04" width="1.36" height="1.36" fill="#111"/>
<rect x="419.31" y="47.90" width="1.36" height="1.36" fill="#111"/>
<rect x="419.31" y="51.68" width="1.36" height="1.36" fill="#111"/>
<rect x="419.31" y="54.21" width="1.36" height="1.36" fill="#111"/>
<rect x="419.31" y="55.47" width="1.36" height="1.36" fill="#111"/>
<rect x="419.31" y="56.73" width="1.36" height="1.36" fill="#111"/>
<rect x="419.31" y="60.52" width="1.36" height="1.36" fill="#111"/>
<rect x="419.31" y="63.04" width="1.36" height="1.36" fill="#111"/>
<rect x="420.57" y="49.16" width="1.36" height="1.36" fill="#111"/>
<rect x="420.57" y="52.95" width="1.36" height="1.36" fill="#111"/>
<rect x="420.57" y="55.47" width="1.36" height="1.36" fill="#111"/>
<rect x="420.57" y="56.73" width="1.36" height="1.36" fill="#111"/>
<rect x="420.57" y="57.99" width="1.36" height="1.36" fill="#111"/>
<rect x="420.57" y="59.25" width="1.36" height="1.36" fill="#111"/>
<rect x="420.57" y="60.52" width="1.36" height="1.36" fill="#111"/>
<rect x="420.57" y="61.78" width="1.36" height="1.36" fill="#111"/>
<rect x="421.83" y="47.90" width="1.36" height="1.36" fill="#111"/>
<rect x="421.83" y="49.16" width="1.36" height="1.36" fill="#111"/>
<rect x="421.83" y="51.68" width="1.36" height="1.36" fill="#111"/>
<rect x="421.83" y="55.47" width="1.36" height="1.36" fill="#111"/>
<rect x="421.83" y="56.73" width="1.36" height="1.36" fill="#111"/>
<rect x="421.83" y="57.99" width="1.36" height="1.36" fill="#111"/>
<rect x="421.83" y="60.52" width="1.36" height="1.36" fill="#111"/>
<rect x="421.83" y="61.78" width="1.36" height="1.36" fill="#111"/>
<rect x="423.09" y="49.16" width="1.36" height="1.36" fill="#111"/>
<rect x="423.09" y="50.42" width="1.36" height="1.36" fill="#111"/>
<rect x="423.09" y="52.95" width="1.36" height="1.36" fill="#111"/>
<rect x="423.09" y="54.21" width="1.36" height="1.36" fill="#111"/>
<rect x="423.09" y="56.73" width="1.36" height="1.36" fill="#111"/>
<rect x="423.09" y="57.99" width="1.36" height="1.36" fill="#111"/>
<rect x="423.09" y="59.25" width="1.36" height="1.36" fill="#111"/>
<rect x="423.09" y="60.52" width="1.36" height="1.36" fill="#111"/>
<rect x="423.09" y="61.78" width="1.36" height="1.36" fill="#111"/>
<rect x="423.09" y="63.04" width="1.36" height="1.36" fill="#111"/>
<rect x="424.35" y="50.42" width="1.36" height="1.36" fill="#111"/>
<rect x="424.35" y="52.95" width="1.36" height="1.36" fill="#111"/>
<rect x="424.35" y="55.47" width="1.36" height="1.36" fill="#111"/>
<rect x="424.35" y="59.25" width="1.36" height="1.36" fill="#111"/>
<rect x="424.35" y="60.52" width="1.36" height="1.36" fill="#111"/>
<rect x="425.62" y="47.90" width="1.36" height="1.36" fill="#111"/>
<rect x="425.62" y="49.16" width="1.36" height="1.36" fill="#111"/>
<rect x="425.62" y="50.42" width="1.36" height="1.36" fill="#111"/>
<rect x="425.62" y="51.68" width="1.36" height="1.36" fill="#111"/>
<rect x="425.62" y="52.95" width="1.36" height="1.36" fill="#111"/>
<rect x="425.62" y="54.21" width="1.36" height="1.36" fill="#111"/>
<rect x="425.62" y="55.47" width="1.36" height="1.36" fill="#111"/>
<rect x="425.62" y="56.73" width="1.36" height="1.36" fill="#111"/>
<rect x="425.62" y="57.99" width="1.36" height="1.36" fill="#111"/>
<rect x="425.62" y="59.25" width="1.36" height="1.36" fill="#111"/>
<rect x="425.62" y="61.78" width="1.36" height="1.36" fill="#111"/>
<rect x="425.62" y="63.04" width="1.36" height="1.36" fill="#111"/>
<rect x="426.88" y="47.90" width="1.36" height="1.36" fill="#111"/>
<rect x="426.88" y="49.16" width="1.36" height="1.36" fill="#111"/>
<rect x="426.88" y="50.42" width="1.36" height="1.36" fill="#111"/>
<rect x="426.88" y="52.95" width="1.36" height="1.36" fill="#111"/>
<rect x="426.88" y="54.21" width="1.36" height="1.36" fill="#111"/>
<rect x="426.88" y="55.47" width="1.36" height="1.36" fill="#111"/>
<rect x="426.88" y="57.99" width="1.36" height="1.36" fill="#111"/>
<rect x="426.88" y="59.25" width="1.36" height="1.36" fill="#111"/>
<rect x="426.88" y="60.52" width="1.36" height="1.36" fill="#111"/>
<rect x="426.88" y="63.04" width="1.36" height="1.36" fill="#111"/>
<rect x="428.14" y="47.90" width="1.36" height="1.36" fill="#111"/>
<rect x="428.14" y="49.16" width="1.36" height="1.36" fill="#111"/>
<rect x="428.14" y="50.42" width="1.36" height="1.36" fill="#111"/>
<rect x="428.14" y="54.21" width="1.36" height="1.36" fill="#111"/>
<rect x="428.14" y="55.47" width="1.36" height="1.36" fill="#111"/>
<rect x="428.14" y="56.73" width="1.36" height="1.36" fill="#111"/>
<rect x="428.14" y="57.99" width="1.36" height="1.36" fill="#111"/>
<rect x="428.14" y="59.25" width="1.36" height="1.36" fill="#111"/>
<rect x="428.14" y="63.04" width="1.36" height="1.36" fill="#111"/>
<rect x="414.16" y="49.06" width="1.14" height="1.14" fill="#ddd"/>
<rect x="426.78" y="49.06" width="1.14" height="1.14" fill="#ddd"/>
<rect x="414.16" y="61.68" width="1.14" height="1.14" fill="#ddd"/>
</g>
<line x1="472.6" y1="51" x2="492" y2="51" stroke="#333" stroke-width="0.95"/>
<path d="M496.3,51 L490.6,48.55 L490.6,53.45 Z" fill="#0a0a0a"/>
<text x="526.7" y="6.4" font-size="8.2" text-anchor="middle" fill="#111" stroke="#111" stroke-width="0.14" font-weight="normal" >Pooled barcoded</text>
<text x="525.7" y="15.7" font-size="8.2" text-anchor="middle" fill="#111" stroke="#111" stroke-width="0.14" font-weight="normal" >NeoAg–HLA library</text>
<path d="M519.2,32.5 L519.2,57 C519.8,66 522.3,77 524.6,82.3 Q527.5,87 530.4,82.3 C532.7,77 535.2,66 535.8,57 L535.8,32.5 Z" fill="#fff" stroke="#444" stroke-width="0.7"/>
<path d="M520.2,50 L534.8,50 L534.8,57 C534.3,66 531.9,76.5 529.7,81.6 Q527.5,85.4 525.3,81.6 C523.1,76.5 520.7,66 520.2,57 Z" fill="#e4e4e4"/>
<path d="M519.2,32.5 L519.2,57 C519.8,66 522.3,77 524.6,82.3 Q527.5,87 530.4,82.3 C532.7,77 535.2,66 535.8,57 L535.8,32.5" fill="none" stroke="#444" stroke-width="0.7"/>
<path d="M520.5,33 L520.5,57 C521,66 523.3,76.5 525.4,81.5 Q527.5,85 529.6,81.5 C531.7,76.5 534,66 534.5,57 L534.5,33" fill="none" stroke="#888" stroke-width="0.35"/>
<rect x="517.6" y="28.6" width="20.4" height="2.2" fill="#fff" stroke="#444" stroke-width="0.6"/>
<rect x="518.6" y="30.8" width="18.4" height="2" fill="#fff" stroke="#444" stroke-width="0.6"/>
<path d="M517.6,29 L513.5,29.2 Q512.3,30.3 513.5,31.4 L517,31.2" fill="#ddd" stroke="#444" stroke-width="0.6"/>
<circle cx="520.7" cy="59.2" r="1.65" fill="#b244e0"/>
<circle cx="524.6" cy="59.2" r="1.65" fill="#f07f2e"/>
<circle cx="528.8" cy="59.2" r="1.65" fill="#2463c4"/>
<circle cx="532.7" cy="59.2" r="1.65" fill="#12a045"/>
<circle cx="521.6" cy="63.1" r="1.65" fill="#0f9490"/>
<circle cx="526.8" cy="63.1" r="1.65" fill="#3272d6"/>
<circle cx="532" cy="63.1" r="1.65" fill="#9595f2"/>
<circle cx="522.2" cy="67.3" r="1.65" fill="#101f92"/>
<circle cx="526.8" cy="67.3" r="1.65" fill="#c0100f"/>
<circle cx="531.4" cy="67.3" r="1.65" fill="#f3120f"/>
<circle cx="523.5" cy="71.2" r="1.65" fill="#80a81e"/>
<circle cx="527.2" cy="71.2" r="1.65" fill="#c4920e"/>
<circle cx="531.1" cy="71.2" r="1.65" fill="#f6d456"/>
<circle cx="525.5" cy="75.5" r="1.65" fill="#3262d4"/>
<circle cx="529.4" cy="75.5" r="1.65" fill="#6422a4"/>
<circle cx="527.2" cy="79.9" r="1.65" fill="#f896f2"/>
<line x1="552" y1="51" x2="571.8" y2="51" stroke="#333" stroke-width="0.95"/>
<path d="M576.0999999999999,51 L570.4,48.55 L570.4,53.45 Z" fill="#0a0a0a"/>
<path d="M21.3,121.5 L21.3,167.5 Q21.3,173.6 26.9,173.6 Q32.5,173.6 32.5,167.5 L32.5,121.5 Z" fill="#fff"/>
<rect x="21.3" y="130" width="11.2" height="17.6" fill="#faf6d6"/>
<rect x="21.3" y="147.4" width="11.2" height="2.8" fill="#e3efd6"/>
<rect x="21.3" y="150" width="11.2" height="5.2" fill="#d9d9d9"/>
<path d="M21.3,155 L21.3,167.5 Q21.3,173.6 26.9,173.6 Q32.5,173.6 32.5,167.5 L32.5,155 Z" fill="#d9666e"/>
<path d="M21.3,116.5 L21.3,167.5 Q21.3,173.6 26.9,173.6 Q32.5,173.6 32.5,167.5 L32.5,116.5" fill="none" stroke="#333" stroke-width="0.8"/>
<rect x="21.6" y="116" width="10.6" height="5.8" fill="#ea7a08"/>
<rect x="20.3" y="109.4" width="13.2" height="7" fill="#e07204" stroke="#333" stroke-width="0.6"/>
<line x1="36.6" y1="141.9" x2="56" y2="141.9" stroke="#333" stroke-width="0.95"/>
<path d="M60.3,141.9 L54.6,139.45000000000002 L54.6,144.35 Z" fill="#0a0a0a"/>
<text x="6.3" y="199.3" font-size="8.2" text-anchor="start" fill="#111" stroke="#111" stroke-width="0.14" font-weight="normal" >PBMC and</text>
<text x="6.3" y="210.7" font-size="8.2" text-anchor="start" fill="#111" stroke="#111" stroke-width="0.14" font-weight="normal" >TIL staining</text>
<path d="M81.5,102.2 L81.5,168.3 L152,168.3" fill="none" stroke="#aaa" stroke-width="0.8"/>
<line x1="104.3" y1="106.3" x2="104.3" y2="111.8" stroke="#555" stroke-width="0.9"/>
<line x1="104.3" y1="117.4" x2="104.3" y2="125" stroke="#555" stroke-width="0.9"/>
<line x1="104.3" y1="130.5" x2="104.3" y2="138.1" stroke="#555" stroke-width="0.9"/>
<line x1="104.3" y1="143.4" x2="104.3" y2="146.8" stroke="#555" stroke-width="0.9"/>
<line x1="104.3" y1="152.7" x2="104.3" y2="158.9" stroke="#555" stroke-width="0.9"/>
<line x1="104.3" y1="164.4" x2="104.3" y2="166.8" stroke="#555" stroke-width="0.9"/>
<line x1="86.3" y1="144.6" x2="92.5" y2="144.6" stroke="#555" stroke-width="0.9"/>
<line x1="98" y1="144.6" x2="105" y2="144.6" stroke="#555" stroke-width="0.9"/>
<line x1="109.8" y1="144.6" x2="114.7" y2="144.6" stroke="#555" stroke-width="0.9"/>
<line x1="120.9" y1="144.6" x2="126.4" y2="144.6" stroke="#555" stroke-width="0.9"/>
<line x1="132.7" y1="144.6" x2="138.5" y2="144.6" stroke="#555" stroke-width="0.9"/>
<ellipse cx="119.8" cy="123.7" rx="1.6" ry="1.25" fill="#f41318"/>
<ellipse cx="116.5" cy="127.6" rx="1.6" ry="1.25" fill="#f41318"/>
<ellipse cx="122.3" cy="127.5" rx="1.6" ry="1.25" fill="#f41318"/>
<ellipse cx="119" cy="130.9" rx="1.6" ry="1.25" fill="#f41318"/>
<ellipse cx="123.5" cy="131.6" rx="1.6" ry="1.25" fill="#f41318"/>
<ellipse cx="114.7" cy="132.6" rx="1.6" ry="1.25" fill="#f41318"/>
<ellipse cx="110.8" cy="134.7" rx="1.6" ry="1.25" fill="#f41318"/>
<ellipse cx="120.5" cy="136.1" rx="1.6" ry="1.25" fill="#f41318"/>
<ellipse cx="112.6" cy="138.3" rx="1.6" ry="1.25" fill="#f41318"/>
<ellipse cx="108.4" cy="139.1" rx="1.6" ry="1.25" fill="#f41318"/>
<ellipse cx="116.6" cy="140.4" rx="1.6" ry="1.25" fill="#f41318"/>
<ellipse cx="116.3" cy="135.8" rx="1.6" ry="1.25" fill="#10a54a"/>
<ellipse cx="110" cy="142.2" rx="1.6" ry="1.25" fill="#10a54a"/>
<ellipse cx="90.5" cy="148.1" rx="1.35" ry="0.85" fill="#999"/>
<ellipse cx="93.5" cy="148.1" rx="1.35" ry="0.85" fill="#999"/>
<ellipse cx="98.1" cy="149.5" rx="1.35" ry="0.85" fill="#999"/>
<ellipse cx="101.8" cy="150.6" rx="1.35" ry="0.85" fill="#999"/>
<ellipse cx="87.0" cy="151.3" rx="1.35" ry="0.85" fill="#999"/>
<ellipse cx="94.6" cy="152.0" rx="1.35" ry="0.85" fill="#999"/>
<ellipse cx="91.1" cy="153.1" rx="1.35" ry="0.85" fill="#999"/>
<ellipse cx="85.6" cy="154.7" rx="1.35" ry="0.85" fill="#999"/>
<ellipse cx="88.4" cy="154.5" rx="1.35" ry="0.85" fill="#999"/>
<ellipse cx="96.0" cy="154.7" rx="1.35" ry="0.85" fill="#999"/>
<ellipse cx="98.8" cy="154.5" rx="1.35" ry="0.85" fill="#999"/>
<ellipse cx="102.9" cy="154.7" rx="1.35" ry="0.85" fill="#999"/>
<ellipse cx="91.8" cy="156.8" rx="1.35" ry="0.85" fill="#999"/>
<ellipse cx="87.4" cy="158.5" rx="1.35" ry="0.85" fill="#999"/>
<ellipse cx="97.4" cy="157.8" rx="1.35" ry="0.85" fill="#999"/>
<ellipse cx="101.5" cy="158.2" rx="1.35" ry="0.85" fill="#999"/>
<ellipse cx="90.5" cy="160.6" rx="1.35" ry="0.85" fill="#999"/>
<ellipse cx="95.7" cy="161.0" rx="1.35" ry="0.85" fill="#999"/>
<ellipse cx="99.5" cy="160.3" rx="1.35" ry="0.85" fill="#999"/>
<ellipse cx="86.6" cy="162.6" rx="1.35" ry="0.85" fill="#999"/>
<ellipse cx="92.5" cy="161.4" rx="1.35" ry="0.85" fill="#999"/>
<ellipse cx="102.2" cy="162.6" rx="1.35" ry="0.85" fill="#999"/>
<ellipse cx="89.1" cy="165.4" rx="1.35" ry="0.85" fill="#999"/>
<ellipse cx="93.2" cy="165.8" rx="1.35" ry="0.85" fill="#999"/>
<ellipse cx="96.0" cy="164.9" rx="1.35" ry="0.85" fill="#999"/>
<ellipse cx="101.5" cy="165.8" rx="1.35" ry="0.85" fill="#999"/>
<ellipse cx="103.6" cy="165.5" rx="1.35" ry="0.85" fill="#999"/>
<ellipse cx="133.7" cy="108.8" rx="1.7" ry="1.3" fill="#10a54a"/>
<ellipse cx="133.7" cy="115.5" rx="1.7" ry="1.3" fill="#f41318"/>
<text x="139.4" y="109.9" font-size="8.2" text-anchor="start" fill="#111" stroke="#111" stroke-width="0.14" font-weight="normal" >NeoAg-specific T cells</text>
<text x="138.5" y="119.9" font-size="8.2" text-anchor="start" fill="#111" stroke="#111" stroke-width="0.14" font-weight="normal" >Non-specific T cells</text>
<text x="128.7" y="180.3" font-size="8.2" text-anchor="middle" fill="#111" stroke="#111" stroke-width="0.14" font-weight="normal" >NeoAg–HLA binding (PE)</text>
<text transform="translate(75.3,136.5) rotate(-90)" font-size="8.2" text-anchor="middle" fill="#111" stroke="#111" stroke-width="0.14">NeoAg–HLA binding (APC)</text>
<text x="77" y="205.8" font-size="8.2" text-anchor="start" fill="#111" stroke="#111" stroke-width="0.14">CD8<tspan font-size="5" dy="-2.8">+</tspan><tspan dy="2.8"> T cell analysis</tspan></text>
<line x1="186" y1="142.2" x2="205.5" y2="142.2" stroke="#333" stroke-width="0.95"/>
<path d="M209.8,142.2 L204.1,139.75 L204.1,144.64999999999998 Z" fill="#0a0a0a"/>
<path d="M270.41,139.80 L270.28,140.72 L270.29,141.65 L270.42,142.60 L270.64,143.60 L270.87,144.65 L271.04,145.74 L271.06,146.82 L270.87,147.86 L270.46,148.83 L269.84,149.69 L269.06,150.44 L268.17,151.10 L267.25,151.68 L266.37,152.26 L265.55,152.86 L264.81,153.52 L264.13,154.26 L263.48,155.07 L262.81,155.90 L262.07,156.70 L261.25,157.41 L260.32,157.98 L259.31,158.37 L258.23,158.58 L257.12,158.64 L256.00,158.58 L254.91,158.46 L253.85,158.34 L252.82,158.24 L251.80,158.19 L250.79,158.18 L249.77,158.18 L248.74,158.14 L247.72,158.04 L246.71,157.84 L245.73,157.54 L244.80,157.13 L243.90,156.65 L243.04,156.13 L242.19,155.60 L241.34,155.10 L240.45,154.63 L239.54,154.18 L238.61,153.72 L237.68,153.21 L236.80,152.63 L236.00,151.95 L235.32,151.17 L234.79,150.29 L234.38,149.35 L234.08,148.37 L233.83,147.40 L233.58,146.44 L233.27,145.52 L232.88,144.62 L232.40,143.72 L231.87,142.80 L231.34,141.84 L230.90,140.84 L230.61,139.80 L230.53,138.74 L230.70,137.69 L231.11,136.69 L231.71,135.74 L232.43,134.87 L233.19,134.06 L233.90,133.27 L234.51,132.49 L235.00,131.67 L235.37,130.79 L235.68,129.86 L235.97,128.88 L236.32,127.90 L236.79,126.96 L237.40,126.13 L238.18,125.43 L239.08,124.89 L240.09,124.49 L241.13,124.20 L242.17,123.96 L243.18,123.73 L244.13,123.45 L245.04,123.08 L245.93,122.63 L246.81,122.13 L247.73,121.61 L248.69,121.13 L249.69,120.74 L250.73,120.49 L251.80,120.39 L252.87,120.43 L253.93,120.58 L254.97,120.81 L255.99,121.07 L257.01,121.33 L258.03,121.59 L259.06,121.84 L260.09,122.11 L261.11,122.45 L262.09,122.87 L263.01,123.40 L263.85,124.05 L264.59,124.80 L265.24,125.63 L265.82,126.48 L266.37,127.34 L266.93,128.16 L267.52,128.95 L268.17,129.71 L268.85,130.45 L269.54,131.21 L270.19,132.02 L270.73,132.90 L271.12,133.84 L271.32,134.83 L271.33,135.86 L271.18,136.89 L270.92,137.89 L270.64,138.86Z" fill="#a0b6c0" filter="url(#bl3)"/>
<path d="M260.62,140.30 L260.53,140.75 L260.40,141.19 L260.25,141.62 L260.08,142.04 L259.90,142.44 L259.73,142.84 L259.57,143.23 L259.41,143.62 L259.25,144.02 L259.10,144.42 L258.93,144.82 L258.74,145.22 L258.53,145.60 L258.29,145.97 L258.02,146.31 L257.72,146.62 L257.39,146.91 L257.04,147.15 L256.67,147.37 L256.29,147.56 L255.91,147.73 L255.52,147.89 L255.13,148.03 L254.74,148.17 L254.34,148.30 L253.95,148.43 L253.54,148.55 L253.14,148.64 L252.72,148.71 L252.30,148.75 L251.88,148.75 L251.46,148.71 L251.04,148.62 L250.64,148.50 L250.25,148.34 L249.87,148.16 L249.50,147.96 L249.14,147.76 L248.78,147.55 L248.42,147.35 L248.06,147.16 L247.69,146.96 L247.31,146.77 L246.93,146.56 L246.55,146.34 L246.18,146.09 L245.82,145.81 L245.50,145.49 L245.21,145.13 L244.97,144.74 L244.78,144.32 L244.63,143.88 L244.53,143.43 L244.47,142.97 L244.45,142.51 L244.44,142.05 L244.45,141.61 L244.47,141.16 L244.49,140.73 L244.51,140.30 L244.54,139.87 L244.58,139.45 L244.62,139.02 L244.69,138.60 L244.79,138.19 L244.91,137.78 L245.05,137.38 L245.23,136.99 L245.43,136.62 L245.64,136.26 L245.86,135.91 L246.09,135.57 L246.33,135.22 L246.56,134.87 L246.79,134.51 L247.03,134.15 L247.27,133.78 L247.53,133.41 L247.81,133.04 L248.12,132.70 L248.46,132.38 L248.82,132.10 L249.22,131.88 L249.64,131.72 L250.08,131.61 L250.53,131.57 L250.98,131.58 L251.43,131.63 L251.87,131.72 L252.30,131.83 L252.72,131.96 L253.12,132.09 L253.52,132.22 L253.91,132.34 L254.30,132.47 L254.69,132.59 L255.07,132.72 L255.45,132.87 L255.83,133.03 L256.19,133.22 L256.54,133.44 L256.88,133.68 L257.20,133.95 L257.50,134.24 L257.78,134.54 L258.06,134.86 L258.33,135.17 L258.59,135.50 L258.86,135.83 L259.13,136.16 L259.40,136.50 L259.66,136.86 L259.92,137.23 L260.15,137.62 L260.34,138.04 L260.50,138.47 L260.61,138.92 L260.67,139.38 L260.67,139.84Z" fill="#b4c6cd" filter="url(#bl3)"/>
<path d="M242.80,117.20 L242.59,120.94 L244.89,125.26" fill="none" stroke="#9cc63e" stroke-width="0.9" stroke-linejoin="round"/>
<path d="M243.59,116.55 L243.47,118.99" fill="none" stroke="#9cc63e" stroke-width="0.85"/>
<path d="M238.04,119.74 L241.26,121.65 L243.57,125.97" fill="none" stroke="#9cc63e" stroke-width="0.9" stroke-linejoin="round"/>
<path d="M237.06,120.04 L239.15,121.30" fill="none" stroke="#9cc63e" stroke-width="0.85"/>
<circle cx="239.9" cy="117.5" r="1.85" fill="#0bb04e"/>
<path d="M268.84,122.53 L265.33,123.84 L262.30,127.69" fill="none" stroke="#9cc63e" stroke-width="0.9" stroke-linejoin="round"/>
<path d="M269.75,123.00 L267.47,123.87" fill="none" stroke="#9cc63e" stroke-width="0.85"/>
<path d="M264.60,119.19 L264.15,122.91 L261.12,126.76" fill="none" stroke="#9cc63e" stroke-width="0.9" stroke-linejoin="round"/>
<path d="M263.94,118.42 L263.62,120.84" fill="none" stroke="#9cc63e" stroke-width="0.85"/>
<circle cx="267.4" cy="120" r="1.85" fill="#0bb04e"/>
<path d="M276.02,143.26 L272.88,141.21 L267.98,141.06" fill="none" stroke="#9cc63e" stroke-width="0.9" stroke-linejoin="round"/>
<path d="M276.18,144.27 L274.12,142.95" fill="none" stroke="#9cc63e" stroke-width="0.85"/>
<path d="M276.19,137.87 L272.93,139.72 L268.03,139.56" fill="none" stroke="#9cc63e" stroke-width="0.9" stroke-linejoin="round"/>
<path d="M276.42,136.87 L274.28,138.06" fill="none" stroke="#9cc63e" stroke-width="0.85"/>
<circle cx="277.2" cy="140.6" r="1.85" fill="#0bb04e"/>
<path d="M267.41,156.73 L266.25,153.17 L262.53,149.98" fill="none" stroke="#9cc63e" stroke-width="0.9" stroke-linejoin="round"/>
<path d="M266.91,157.62 L266.13,155.31" fill="none" stroke="#9cc63e" stroke-width="0.85"/>
<path d="M270.92,152.63 L267.22,152.03 L263.50,148.84" fill="none" stroke="#9cc63e" stroke-width="0.9" stroke-linejoin="round"/>
<path d="M271.72,152.01 L269.32,151.59" fill="none" stroke="#9cc63e" stroke-width="0.85"/>
<circle cx="270" cy="155.4" r="1.85" fill="#0bb04e"/>
<path d="M247.38,163.91 L249.56,160.86 L249.90,155.97" fill="none" stroke="#9cc63e" stroke-width="0.9" stroke-linejoin="round"/>
<path d="M246.37,164.04 L247.77,162.03" fill="none" stroke="#9cc63e" stroke-width="0.85"/>
<path d="M252.77,164.29 L251.05,160.96 L251.40,156.08" fill="none" stroke="#9cc63e" stroke-width="0.9" stroke-linejoin="round"/>
<path d="M253.75,164.56 L252.66,162.38" fill="none" stroke="#9cc63e" stroke-width="0.85"/>
<circle cx="250" cy="165.2" r="1.85" fill="#0bb04e"/>
<path d="M230.82,152.59 L234.54,152.18 L238.42,149.18" fill="none" stroke="#9cc63e" stroke-width="0.9" stroke-linejoin="round"/>
<path d="M230.05,151.92 L232.48,151.63" fill="none" stroke="#9cc63e" stroke-width="0.85"/>
<path d="M234.12,156.86 L235.46,153.37 L239.34,150.37" fill="none" stroke="#9cc63e" stroke-width="0.9" stroke-linejoin="round"/>
<path d="M234.57,157.78 L235.47,155.51" fill="none" stroke="#9cc63e" stroke-width="0.85"/>
<circle cx="231.6" cy="155.4" r="1.85" fill="#0bb04e"/>
<path d="M225.83,139.61 L229.21,141.24 L234.08,140.77" fill="none" stroke="#9cc63e" stroke-width="0.9" stroke-linejoin="round"/>
<path d="M225.54,138.63 L227.75,139.67" fill="none" stroke="#9cc63e" stroke-width="0.85"/>
<path d="M226.36,144.98 L229.35,142.73 L234.23,142.26" fill="none" stroke="#9cc63e" stroke-width="0.9" stroke-linejoin="round"/>
<path d="M226.25,146.00 L228.22,144.55" fill="none" stroke="#9cc63e" stroke-width="0.85"/>
<circle cx="225" cy="142.4" r="1.85" fill="#0bb04e"/>
<path d="M333.63,140.40 L333.77,141.43 L333.98,142.49 L334.22,143.59 L334.37,144.71 L334.38,145.84 L334.18,146.93 L333.74,147.95 L333.10,148.88 L332.29,149.71 L331.39,150.44 L330.48,151.13 L329.62,151.79 L328.85,152.50 L328.18,153.27 L327.59,154.13 L327.04,155.05 L326.48,156.02 L325.85,156.96 L325.11,157.84 L324.27,158.60 L323.31,159.21 L322.27,159.66 L321.18,159.99 L320.06,160.21 L318.94,160.40 L317.83,160.57 L316.74,160.76 L315.64,160.98 L314.53,161.19 L313.40,161.37 L312.26,161.46 L311.11,161.44 L309.98,161.28 L308.88,160.97 L307.82,160.55 L306.80,160.04 L305.82,159.50 L304.85,158.96 L303.89,158.46 L302.90,157.99 L301.89,157.54 L300.88,157.07 L299.89,156.54 L298.96,155.91 L298.14,155.15 L297.47,154.27 L296.94,153.29 L296.55,152.23 L296.26,151.16 L296.01,150.11 L295.73,149.11 L295.35,148.17 L294.86,147.28 L294.23,146.42 L293.52,145.55 L292.79,144.64 L292.12,143.66 L291.60,142.62 L291.29,141.52 L291.23,140.40 L291.42,139.29 L291.82,138.21 L292.34,137.17 L292.90,136.19 L293.42,135.22 L293.85,134.26 L294.16,133.26 L294.36,132.20 L294.51,131.09 L294.67,129.94 L294.92,128.80 L295.32,127.70 L295.90,126.70 L296.67,125.84 L297.61,125.13 L298.67,124.58 L299.79,124.15 L300.92,123.79 L302.02,123.46 L303.07,123.09 L304.06,122.68 L305.02,122.21 L305.98,121.71 L306.96,121.22 L307.97,120.79 L309.02,120.47 L310.10,120.27 L311.20,120.20 L312.31,120.25 L313.40,120.37 L314.48,120.52 L315.54,120.67 L316.61,120.78 L317.69,120.87 L318.79,120.94 L319.90,121.05 L321.01,121.22 L322.10,121.51 L323.13,121.93 L324.10,122.48 L324.98,123.15 L325.80,123.90 L326.57,124.68 L327.33,125.44 L328.12,126.16 L328.98,126.84 L329.89,127.49 L330.86,128.14 L331.82,128.83 L332.73,129.61 L333.50,130.49 L334.09,131.49 L334.44,132.59 L334.56,133.75 L334.48,134.94 L334.26,136.11 L334.00,137.25 L333.77,138.33 L333.63,139.37Z" fill="#a0b6c0" filter="url(#bl3)"/>
<path d="M321.27,140.30 L321.12,140.76 L320.96,141.20 L320.79,141.63 L320.64,142.04 L320.50,142.46 L320.37,142.87 L320.27,143.30 L320.17,143.73 L320.08,144.18 L319.98,144.64 L319.86,145.10 L319.71,145.55 L319.53,146.00 L319.30,146.43 L319.04,146.83 L318.73,147.20 L318.39,147.53 L318.02,147.82 L317.63,148.09 L317.23,148.32 L316.81,148.53 L316.39,148.73 L315.96,148.91 L315.52,149.07 L315.08,149.22 L314.64,149.35 L314.19,149.45 L313.73,149.53 L313.26,149.56 L312.80,149.54 L312.34,149.48 L311.89,149.38 L311.45,149.23 L311.02,149.04 L310.62,148.83 L310.22,148.60 L309.84,148.37 L309.46,148.14 L309.09,147.92 L308.71,147.71 L308.33,147.51 L307.93,147.31 L307.53,147.11 L307.13,146.89 L306.74,146.64 L306.36,146.37 L306.00,146.06 L305.68,145.71 L305.40,145.33 L305.16,144.92 L304.96,144.48 L304.81,144.02 L304.70,143.55 L304.61,143.08 L304.54,142.62 L304.49,142.15 L304.43,141.69 L304.38,141.23 L304.34,140.76 L304.29,140.30 L304.26,139.83 L304.24,139.36 L304.25,138.88 L304.30,138.41 L304.38,137.94 L304.50,137.48 L304.66,137.03 L304.86,136.60 L305.08,136.19 L305.33,135.79 L305.60,135.40 L305.87,135.03 L306.15,134.66 L306.43,134.30 L306.72,133.94 L307.01,133.57 L307.32,133.22 L307.65,132.88 L308.00,132.56 L308.37,132.27 L308.77,132.02 L309.19,131.82 L309.64,131.67 L310.09,131.58 L310.56,131.54 L311.02,131.54 L311.48,131.58 L311.93,131.64 L312.37,131.71 L312.80,131.78 L313.22,131.84 L313.65,131.88 L314.07,131.92 L314.50,131.94 L314.93,131.96 L315.38,131.99 L315.83,132.04 L316.28,132.12 L316.73,132.23 L317.17,132.39 L317.59,132.59 L317.99,132.83 L318.37,133.11 L318.72,133.42 L319.06,133.75 L319.37,134.11 L319.67,134.48 L319.96,134.86 L320.24,135.25 L320.50,135.65 L320.75,136.06 L320.97,136.49 L321.17,136.94 L321.32,137.40 L321.44,137.88 L321.50,138.36 L321.51,138.86 L321.48,139.35 L321.39,139.83Z" fill="#b4c6cd" filter="url(#bl3)"/>
<path d="M309.10,115.52 L308.10,119.13 L309.45,123.84" fill="none" stroke="#b5202c" stroke-width="0.9" stroke-linejoin="round"/>
<path d="M310.00,115.05 L309.38,117.41" fill="none" stroke="#b5202c" stroke-width="0.85"/>
<path d="M303.91,117.00 L306.66,119.54 L308.01,124.25" fill="none" stroke="#b5202c" stroke-width="0.9" stroke-linejoin="round"/>
<path d="M302.89,117.08 L304.67,118.76" fill="none" stroke="#b5202c" stroke-width="0.85"/>
<circle cx="306.2" cy="115.2" r="1.85" fill="#ffc21e"/>
<path d="M333.50,124.50 L329.85,125.34 L326.35,128.77" fill="none" stroke="#b5202c" stroke-width="0.9" stroke-linejoin="round"/>
<path d="M334.35,125.07 L331.97,125.65" fill="none" stroke="#b5202c" stroke-width="0.85"/>
<path d="M329.73,120.64 L328.80,124.27 L325.30,127.70" fill="none" stroke="#b5202c" stroke-width="0.9" stroke-linejoin="round"/>
<path d="M329.17,119.79 L328.54,122.15" fill="none" stroke="#b5202c" stroke-width="0.85"/>
<circle cx="332.4" cy="121.8" r="1.85" fill="#3262d2"/>
<path d="M339.68,144.25 L336.57,142.16 L331.68,141.95" fill="none" stroke="#b5202c" stroke-width="0.9" stroke-linejoin="round"/>
<path d="M339.84,145.26 L337.80,143.92" fill="none" stroke="#b5202c" stroke-width="0.85"/>
<path d="M339.92,138.85 L336.64,140.66 L331.74,140.45" fill="none" stroke="#b5202c" stroke-width="0.9" stroke-linejoin="round"/>
<path d="M340.16,137.86 L338.01,139.02" fill="none" stroke="#b5202c" stroke-width="0.85"/>
<circle cx="340.9" cy="141.6" r="1.85" fill="#6020a2"/>
<path d="M329.01,159.83 L328.13,156.19 L324.66,152.72" fill="none" stroke="#b5202c" stroke-width="0.9" stroke-linejoin="round"/>
<path d="M328.45,160.68 L327.85,158.31" fill="none" stroke="#b5202c" stroke-width="0.85"/>
<path d="M332.83,156.01 L329.19,155.13 L325.72,151.66" fill="none" stroke="#b5202c" stroke-width="0.9" stroke-linejoin="round"/>
<path d="M333.68,155.45 L331.31,154.85" fill="none" stroke="#b5202c" stroke-width="0.85"/>
<circle cx="331.7" cy="158.7" r="1.85" fill="#9292f8"/>
<path d="M309.17,165.94 L311.31,162.86 L311.60,157.97" fill="none" stroke="#b5202c" stroke-width="0.9" stroke-linejoin="round"/>
<path d="M308.16,166.08 L309.53,164.06" fill="none" stroke="#b5202c" stroke-width="0.85"/>
<path d="M314.56,166.26 L312.80,162.95 L313.10,158.06" fill="none" stroke="#b5202c" stroke-width="0.9" stroke-linejoin="round"/>
<path d="M315.55,166.52 L314.42,164.35" fill="none" stroke="#b5202c" stroke-width="0.85"/>
<circle cx="311.8" cy="167.2" r="1.85" fill="#f890f0"/>
<path d="M290.05,153.46 L293.79,153.22 L297.81,150.41" fill="none" stroke="#b5202c" stroke-width="0.9" stroke-linejoin="round"/>
<path d="M289.31,152.75 L291.75,152.57" fill="none" stroke="#b5202c" stroke-width="0.85"/>
<path d="M293.15,157.88 L294.65,154.45 L298.67,151.64" fill="none" stroke="#b5202c" stroke-width="0.9" stroke-linejoin="round"/>
<path d="M293.56,158.81 L294.56,156.59" fill="none" stroke="#b5202c" stroke-width="0.85"/>
<circle cx="290.7" cy="156.3" r="1.85" fill="#109088"/>
<text x="282.8" y="200.6" font-size="8.2" text-anchor="middle" fill="#111" stroke="#111" stroke-width="0.14" font-weight="normal" >NeoAg-specific T cell (same barcode)</text>
<text x="285.2" y="211.6" font-size="8.2" text-anchor="middle" fill="#111" stroke="#111" stroke-width="0.14" font-weight="normal" >Non-specific T cell (different barcodes)</text>
<line x1="350.7" y1="141.8" x2="370" y2="141.8" stroke="#333" stroke-width="0.95"/>
<path d="M374.3,141.8 L368.6,139.35000000000002 L368.6,144.25 Z" fill="#0a0a0a"/>
<g filter="url(#bl4)">
<circle cx="381.70" cy="123.80" r="0.9" fill="#b4c9d3"/>
<circle cx="383.50" cy="124.80" r="0.9" fill="#8fb0c0"/>
<line x1="385.32" y1="121.05" x2="385.32" y2="127.55" stroke="#dfe8ec" stroke-width="0.9"/>
<circle cx="385.32" cy="121.05" r="1.0" fill="#c3d4dc"/>
<circle cx="385.32" cy="127.55" r="1.0" fill="#7ea4b7"/>
<line x1="388.04" y1="118.67" x2="388.04" y2="129.93" stroke="#dfe8ec" stroke-width="0.9"/>
<circle cx="388.04" cy="118.67" r="1.0" fill="#c3d4dc"/>
<circle cx="388.04" cy="129.93" r="1.0" fill="#7ea4b7"/>
<line x1="390.76" y1="117.80" x2="390.76" y2="130.80" stroke="#dfe8ec" stroke-width="0.9"/>
<circle cx="390.76" cy="117.80" r="1.0" fill="#c3d4dc"/>
<circle cx="390.76" cy="130.80" r="1.0" fill="#7ea4b7"/>
<line x1="393.48" y1="118.67" x2="393.48" y2="129.93" stroke="#dfe8ec" stroke-width="0.9"/>
<circle cx="393.48" cy="118.67" r="1.0" fill="#c3d4dc"/>
<circle cx="393.48" cy="129.93" r="1.0" fill="#7ea4b7"/>
<line x1="396.20" y1="121.05" x2="396.20" y2="127.55" stroke="#dfe8ec" stroke-width="0.9"/>
<circle cx="396.20" cy="121.05" r="1.0" fill="#c3d4dc"/>
<circle cx="396.20" cy="127.55" r="1.0" fill="#7ea4b7"/>
<circle cx="398.02" cy="123.80" r="0.9" fill="#b4c9d3"/>
<circle cx="399.82" cy="124.80" r="0.9" fill="#8fb0c0"/>
<line x1="401.64" y1="121.05" x2="401.64" y2="127.55" stroke="#dfe8ec" stroke-width="0.9"/>
<circle cx="401.64" cy="121.05" r="1.0" fill="#86aabb"/>
<circle cx="401.64" cy="127.55" r="1.0" fill="#ccdae1"/>
<line x1="404.36" y1="118.67" x2="404.36" y2="129.93" stroke="#dfe8ec" stroke-width="0.9"/>
<circle cx="404.36" cy="118.67" r="1.0" fill="#86aabb"/>
<circle cx="404.36" cy="129.93" r="1.0" fill="#ccdae1"/>
<line x1="407.08" y1="117.80" x2="407.08" y2="130.80" stroke="#dfe8ec" stroke-width="0.9"/>
<circle cx="407.08" cy="117.80" r="1.0" fill="#86aabb"/>
<circle cx="407.08" cy="130.80" r="1.0" fill="#ccdae1"/>
<line x1="409.80" y1="118.67" x2="409.80" y2="129.93" stroke="#dfe8ec" stroke-width="0.9"/>
<circle cx="409.80" cy="118.67" r="1.0" fill="#86aabb"/>
<circle cx="409.80" cy="129.93" r="1.0" fill="#ccdae1"/>
<line x1="412.52" y1="121.05" x2="412.52" y2="127.55" stroke="#dfe8ec" stroke-width="0.9"/>
<circle cx="412.52" cy="121.05" r="1.0" fill="#86aabb"/>
<circle cx="412.52" cy="127.55" r="1.0" fill="#ccdae1"/>
<circle cx="414.34" cy="123.80" r="0.9" fill="#b4c9d3"/>
<circle cx="416.14" cy="124.80" r="0.9" fill="#8fb0c0"/>
<line x1="417.96" y1="121.05" x2="417.96" y2="127.55" stroke="#dfe8ec" stroke-width="0.9"/>
<circle cx="417.96" cy="121.05" r="1.0" fill="#c3d4dc"/>
<circle cx="417.96" cy="127.55" r="1.0" fill="#7ea4b7"/>
<line x1="420.68" y1="118.67" x2="420.68" y2="129.93" stroke="#dfe8ec" stroke-width="0.9"/>
<circle cx="420.68" cy="118.67" r="1.0" fill="#c3d4dc"/>
<circle cx="420.68" cy="129.93" r="1.0" fill="#7ea4b7"/>
<line x1="423.40" y1="117.80" x2="423.40" y2="130.80" stroke="#dfe8ec" stroke-width="0.9"/>
<circle cx="423.40" cy="117.80" r="1.0" fill="#c3d4dc"/>
<circle cx="423.40" cy="130.80" r="1.0" fill="#7ea4b7"/>
<line x1="426.12" y1="118.67" x2="426.12" y2="129.93" stroke="#dfe8ec" stroke-width="0.9"/>
<circle cx="426.12" cy="118.67" r="1.0" fill="#c3d4dc"/>
<circle cx="426.12" cy="129.93" r="1.0" fill="#7ea4b7"/>
<line x1="428.84" y1="121.05" x2="428.84" y2="127.55" stroke="#dfe8ec" stroke-width="0.9"/>
<circle cx="428.84" cy="121.05" r="1.0" fill="#c3d4dc"/>
<circle cx="428.84" cy="127.55" r="1.0" fill="#7ea4b7"/>
<circle cx="430.66" cy="123.80" r="0.9" fill="#b4c9d3"/>
<circle cx="432.46" cy="124.80" r="0.9" fill="#8fb0c0"/>
<line x1="434.28" y1="121.05" x2="434.28" y2="127.55" stroke="#dfe8ec" stroke-width="0.9"/>
<circle cx="434.28" cy="121.05" r="1.0" fill="#86aabb"/>
<circle cx="434.28" cy="127.55" r="1.0" fill="#ccdae1"/>
<line x1="437.00" y1="118.67" x2="437.00" y2="129.93" stroke="#dfe8ec" stroke-width="0.9"/>
<circle cx="437.00" cy="118.67" r="1.0" fill="#86aabb"/>
<circle cx="437.00" cy="129.93" r="1.0" fill="#ccdae1"/>
<line x1="439.72" y1="117.80" x2="439.72" y2="130.80" stroke="#dfe8ec" stroke-width="0.9"/>
<circle cx="439.72" cy="117.80" r="1.0" fill="#86aabb"/>
<circle cx="439.72" cy="130.80" r="1.0" fill="#ccdae1"/>
<line x1="442.44" y1="118.67" x2="442.44" y2="129.93" stroke="#dfe8ec" stroke-width="0.9"/>
<circle cx="442.44" cy="118.67" r="1.0" fill="#86aabb"/>
<circle cx="442.44" cy="129.93" r="1.0" fill="#ccdae1"/>
<line x1="445.16" y1="121.05" x2="445.16" y2="127.55" stroke="#dfe8ec" stroke-width="0.9"/>
<circle cx="445.16" cy="121.05" r="1.0" fill="#86aabb"/>
<circle cx="445.16" cy="127.55" r="1.0" fill="#ccdae1"/>
<circle cx="446.98" cy="123.80" r="0.9" fill="#b4c9d3"/>
<circle cx="448.78" cy="124.80" r="0.9" fill="#8fb0c0"/>
<line x1="450.60" y1="121.05" x2="450.60" y2="127.55" stroke="#dfe8ec" stroke-width="0.9"/>
<circle cx="450.60" cy="121.05" r="1.0" fill="#c3d4dc"/>
<circle cx="450.60" cy="127.55" r="1.0" fill="#7ea4b7"/>
<line x1="453.32" y1="118.67" x2="453.32" y2="129.93" stroke="#dfe8ec" stroke-width="0.9"/>
<circle cx="453.32" cy="118.67" r="1.0" fill="#c3d4dc"/>
<circle cx="453.32" cy="129.93" r="1.0" fill="#7ea4b7"/>
<line x1="456.04" y1="117.80" x2="456.04" y2="130.80" stroke="#dfe8ec" stroke-width="0.9"/>
<circle cx="456.04" cy="117.80" r="1.0" fill="#c3d4dc"/>
<circle cx="456.04" cy="130.80" r="1.0" fill="#7ea4b7"/>
<line x1="458.76" y1="118.67" x2="458.76" y2="129.93" stroke="#dfe8ec" stroke-width="0.9"/>
<circle cx="458.76" cy="118.67" r="1.0" fill="#c3d4dc"/>
<circle cx="458.76" cy="129.93" r="1.0" fill="#7ea4b7"/>
<line x1="461.48" y1="121.05" x2="461.48" y2="127.55" stroke="#dfe8ec" stroke-width="0.9"/>
<circle cx="461.48" cy="121.05" r="1.0" fill="#c3d4dc"/>
<circle cx="461.48" cy="127.55" r="1.0" fill="#7ea4b7"/>
<circle cx="463.30" cy="123.80" r="0.9" fill="#b4c9d3"/>
<circle cx="465.10" cy="124.80" r="0.9" fill="#8fb0c0"/>
</g>
<g filter="url(#bl4)">
<circle cx="381.70" cy="158.50" r="0.9" fill="#b4c9d3"/>
<circle cx="383.50" cy="159.50" r="0.9" fill="#8fb0c0"/>
<line x1="385.32" y1="155.75" x2="385.32" y2="162.25" stroke="#dfe8ec" stroke-width="0.9"/>
<circle cx="385.32" cy="155.75" r="1.0" fill="#c3d4dc"/>
<circle cx="385.32" cy="162.25" r="1.0" fill="#7ea4b7"/>
<line x1="388.04" y1="153.37" x2="388.04" y2="164.63" stroke="#dfe8ec" stroke-width="0.9"/>
<circle cx="388.04" cy="153.37" r="1.0" fill="#c3d4dc"/>
<circle cx="388.04" cy="164.63" r="1.0" fill="#7ea4b7"/>
<line x1="390.76" y1="152.50" x2="390.76" y2="165.50" stroke="#dfe8ec" stroke-width="0.9"/>
<circle cx="390.76" cy="152.50" r="1.0" fill="#c3d4dc"/>
<circle cx="390.76" cy="165.50" r="1.0" fill="#7ea4b7"/>
<line x1="393.48" y1="153.37" x2="393.48" y2="164.63" stroke="#dfe8ec" stroke-width="0.9"/>
<circle cx="393.48" cy="153.37" r="1.0" fill="#c3d4dc"/>
<circle cx="393.48" cy="164.63" r="1.0" fill="#7ea4b7"/>
<line x1="396.20" y1="155.75" x2="396.20" y2="162.25" stroke="#dfe8ec" stroke-width="0.9"/>
<circle cx="396.20" cy="155.75" r="1.0" fill="#c3d4dc"/>
<circle cx="396.20" cy="162.25" r="1.0" fill="#7ea4b7"/>
<circle cx="398.02" cy="158.50" r="0.9" fill="#b4c9d3"/>
<circle cx="399.82" cy="159.50" r="0.9" fill="#8fb0c0"/>
<line x1="401.64" y1="155.75" x2="401.64" y2="162.25" stroke="#dfe8ec" stroke-width="0.9"/>
<circle cx="401.64" cy="155.75" r="1.0" fill="#86aabb"/>
<circle cx="401.64" cy="162.25" r="1.0" fill="#ccdae1"/>
<line x1="404.36" y1="153.37" x2="404.36" y2="164.63" stroke="#dfe8ec" stroke-width="0.9"/>
<circle cx="404.36" cy="153.37" r="1.0" fill="#86aabb"/>
<circle cx="404.36" cy="164.63" r="1.0" fill="#ccdae1"/>
<line x1="407.08" y1="152.50" x2="407.08" y2="165.50" stroke="#dfe8ec" stroke-width="0.9"/>
<circle cx="407.08" cy="152.50" r="1.0" fill="#86aabb"/>
<circle cx="407.08" cy="165.50" r="1.0" fill="#ccdae1"/>
<line x1="409.80" y1="153.37" x2="409.80" y2="164.63" stroke="#dfe8ec" stroke-width="0.9"/>
<circle cx="409.80" cy="153.37" r="1.0" fill="#86aabb"/>
<circle cx="409.80" cy="164.63" r="1.0" fill="#ccdae1"/>
<line x1="412.52" y1="155.75" x2="412.52" y2="162.25" stroke="#dfe8ec" stroke-width="0.9"/>
<circle cx="412.52" cy="155.75" r="1.0" fill="#86aabb"/>
<circle cx="412.52" cy="162.25" r="1.0" fill="#ccdae1"/>
<circle cx="414.34" cy="158.50" r="0.9" fill="#b4c9d3"/>
<circle cx="416.14" cy="159.50" r="0.9" fill="#8fb0c0"/>
<circle cx="415.64" cy="158.80" r="1.25" fill="#8cc63f"/>
<line x1="417.96" y1="155.75" x2="417.96" y2="159.00" stroke="#c2e08e" stroke-width="1"/>
<line x1="417.96" y1="159.00" x2="417.96" y2="162.25" stroke="#a3c6d6" stroke-width="1"/>
<circle cx="417.96" cy="155.75" r="1.35" fill="#8cc63f"/>
<circle cx="417.96" cy="162.25" r="1.35" fill="#27789a"/>
<line x1="420.68" y1="153.37" x2="420.68" y2="159.00" stroke="#c2e08e" stroke-width="1"/>
<line x1="420.68" y1="159.00" x2="420.68" y2="164.63" stroke="#a3c6d6" stroke-width="1"/>
<circle cx="420.68" cy="153.37" r="1.35" fill="#8cc63f"/>
<circle cx="420.68" cy="164.63" r="1.35" fill="#27789a"/>
<line x1="423.40" y1="152.50" x2="423.40" y2="159.00" stroke="#c2e08e" stroke-width="1"/>
<line x1="423.40" y1="159.00" x2="423.40" y2="165.50" stroke="#a3c6d6" stroke-width="1"/>
<circle cx="423.40" cy="152.50" r="1.35" fill="#8cc63f"/>
<circle cx="423.40" cy="165.50" r="1.35" fill="#27789a"/>
<line x1="426.12" y1="153.37" x2="426.12" y2="159.00" stroke="#c2e08e" stroke-width="1"/>
<line x1="426.12" y1="159.00" x2="426.12" y2="164.63" stroke="#a3c6d6" stroke-width="1"/>
<circle cx="426.12" cy="153.37" r="1.35" fill="#8cc63f"/>
<circle cx="426.12" cy="164.63" r="1.35" fill="#27789a"/>
<line x1="428.84" y1="155.75" x2="428.84" y2="159.00" stroke="#c2e08e" stroke-width="1"/>
<line x1="428.84" y1="159.00" x2="428.84" y2="162.25" stroke="#a3c6d6" stroke-width="1"/>
<circle cx="428.84" cy="155.75" r="1.35" fill="#8cc63f"/>
<circle cx="428.84" cy="162.25" r="1.35" fill="#27789a"/>
<circle cx="430.66" cy="158.50" r="0.9" fill="#b4c9d3"/>
<circle cx="432.46" cy="159.50" r="0.9" fill="#8fb0c0"/>
<circle cx="431.16" cy="159.30" r="1.25" fill="#27789a"/>
<line x1="434.28" y1="155.75" x2="434.28" y2="162.25" stroke="#dfe8ec" stroke-width="0.9"/>
<circle cx="434.28" cy="155.75" r="1.0" fill="#86aabb"/>
<circle cx="434.28" cy="162.25" r="1.0" fill="#ccdae1"/>
<line x1="437.00" y1="153.37" x2="437.00" y2="164.63" stroke="#dfe8ec" stroke-width="0.9"/>
<circle cx="437.00" cy="153.37" r="1.0" fill="#86aabb"/>
<circle cx="437.00" cy="164.63" r="1.0" fill="#ccdae1"/>
<line x1="439.72" y1="152.50" x2="439.72" y2="165.50" stroke="#dfe8ec" stroke-width="0.9"/>
<circle cx="439.72" cy="152.50" r="1.0" fill="#86aabb"/>
<circle cx="439.72" cy="165.50" r="1.0" fill="#ccdae1"/>
<line x1="442.44" y1="153.37" x2="442.44" y2="164.63" stroke="#dfe8ec" stroke-width="0.9"/>
<circle cx="442.44" cy="153.37" r="1.0" fill="#86aabb"/>
<circle cx="442.44" cy="164.63" r="1.0" fill="#ccdae1"/>
<line x1="445.16" y1="155.75" x2="445.16" y2="162.25" stroke="#dfe8ec" stroke-width="0.9"/>
<circle cx="445.16" cy="155.75" r="1.0" fill="#86aabb"/>
<circle cx="445.16" cy="162.25" r="1.0" fill="#ccdae1"/>
<circle cx="446.98" cy="158.50" r="0.9" fill="#b4c9d3"/>
<circle cx="448.78" cy="159.50" r="0.9" fill="#8fb0c0"/>
<line x1="450.60" y1="155.75" x2="450.60" y2="162.25" stroke="#dfe8ec" stroke-width="0.9"/>
<circle cx="450.60" cy="155.75" r="1.0" fill="#c3d4dc"/>
<circle cx="450.60" cy="162.25" r="1.0" fill="#7ea4b7"/>
<line x1="453.32" y1="153.37" x2="453.32" y2="164.63" stroke="#dfe8ec" stroke-width="0.9"/>
<circle cx="453.32" cy="153.37" r="1.0" fill="#c3d4dc"/>
<circle cx="453.32" cy="164.63" r="1.0" fill="#7ea4b7"/>
<line x1="456.04" y1="152.50" x2="456.04" y2="165.50" stroke="#dfe8ec" stroke-width="0.9"/>
<circle cx="456.04" cy="152.50" r="1.0" fill="#c3d4dc"/>
<circle cx="456.04" cy="165.50" r="1.0" fill="#7ea4b7"/>
<line x1="458.76" y1="153.37" x2="458.76" y2="164.63" stroke="#dfe8ec" stroke-width="0.9"/>
<circle cx="458.76" cy="153.37" r="1.0" fill="#c3d4dc"/>
<circle cx="458.76" cy="164.63" r="1.0" fill="#7ea4b7"/>
<line x1="461.48" y1="155.75" x2="461.48" y2="162.25" stroke="#dfe8ec" stroke-width="0.9"/>
<circle cx="461.48" cy="155.75" r="1.0" fill="#c3d4dc"/>
<circle cx="461.48" cy="162.25" r="1.0" fill="#7ea4b7"/>
<circle cx="463.30" cy="158.50" r="0.9" fill="#b4c9d3"/>
<circle cx="465.10" cy="159.50" r="0.9" fill="#8fb0c0"/>
</g>
<path d="M421.6,136.9 L424.4,136.9 L424.4,144.8 L426.1,144.8 L423,148.3 L419.9,144.8 L421.6,144.8 Z" fill="url(#darr)" filter="url(#bl3)"/>
<text x="424.5" y="206.3" font-size="8.2" text-anchor="middle" fill="#111" stroke="#111" stroke-width="0.14" font-weight="normal" >Non-viral gene editing</text>
<line x1="472" y1="141.8" x2="491" y2="141.8" stroke="#333" stroke-width="0.95"/>
<path d="M495.3,141.8 L489.6,139.35000000000002 L489.6,144.25 Z" fill="#0a0a0a"/>
<clipPath id="fc"><rect x="536.4" y="106.3" width="58.80000000000007" height="58.7"/></clipPath>
<g clip-path="url(#fc)">
<g filter="url(#bl2)">
<ellipse cx="549" cy="144.5" rx="8.5" ry="6.5" fill="#4260f2" opacity="0.75"/>
<ellipse cx="548" cy="146" rx="5.5" ry="3.5" fill="#3a58f2" opacity="0.6"/>
<ellipse cx="566.5" cy="146.5" rx="6.5" ry="4.5" fill="#4260f2" opacity="0.6"/>
<path d="M560,150 L566,150.5 L572,146 L578,137 L583,130 L586.5,131.5 L583,141 L575,150 L566,153.3 L560,153Z" fill="#3656f2" opacity="0.75" stroke="#3656f2" stroke-width="2.5"/>
</g>
<g filter="url(#bl1)">
<ellipse cx="549" cy="151.7" rx="10.6" ry="3.9" fill="#2a48f2"/>
<ellipse cx="549" cy="151.9" rx="9.2" ry="3.1" fill="#16b8ee"/>
<ellipse cx="549" cy="152" rx="7.8" ry="2.5" fill="#35d66a"/>
<ellipse cx="548.8" cy="152" rx="5.6" ry="1.8" fill="#c8e832"/>
<ellipse cx="548.6" cy="152" rx="3.7" ry="1.2" fill="#f6b21a"/>
<ellipse cx="548.4" cy="152" rx="1.9" ry="0.75" fill="#f0541a"/>
<circle cx="560.60" cy="151.20" r="1.70" fill="#2a48f2"/>
<circle cx="561.17" cy="151.18" r="1.74" fill="#2a48f2"/>
<circle cx="561.73" cy="151.17" r="1.79" fill="#2a48f2"/>
<circle cx="562.30" cy="151.15" r="1.83" fill="#2a48f2"/>
<circle cx="562.87" cy="151.13" r="1.87" fill="#2a48f2"/>
<circle cx="563.43" cy="151.12" r="1.91" fill="#2a48f2"/>
<circle cx="564.00" cy="151.10" r="1.96" fill="#2a48f2"/>
<circle cx="564.58" cy="150.98" r="2.00" fill="#2a48f2"/>
<circle cx="565.17" cy="150.87" r="2.04" fill="#2a48f2"/>
<circle cx="565.75" cy="150.75" r="2.08" fill="#2a48f2"/>
<circle cx="566.33" cy="150.63" r="2.13" fill="#2a48f2"/>
<circle cx="566.92" cy="150.52" r="2.17" fill="#2a48f2"/>
<circle cx="567.50" cy="150.40" r="2.21" fill="#2a48f2"/>
<circle cx="568.02" cy="150.10" r="2.25" fill="#2a48f2"/>
<circle cx="568.53" cy="149.80" r="2.30" fill="#2a48f2"/>
<circle cx="569.05" cy="149.50" r="2.34" fill="#2a48f2"/>
<circle cx="569.57" cy="149.20" r="2.38" fill="#2a48f2"/>
<circle cx="570.08" cy="148.90" r="2.42" fill="#2a48f2"/>
<circle cx="570.60" cy="148.60" r="2.47" fill="#2a48f2"/>
<circle cx="571.07" cy="148.17" r="2.51" fill="#2a48f2"/>
<circle cx="571.53" cy="147.73" r="2.55" fill="#2a48f2"/>
<circle cx="572.00" cy="147.30" r="2.59" fill="#2a48f2"/>
<circle cx="572.47" cy="146.87" r="2.64" fill="#2a48f2"/>
<circle cx="572.93" cy="146.43" r="2.68" fill="#2a48f2"/>
<circle cx="573.40" cy="146.00" r="2.72" fill="#2a48f2"/>
<circle cx="573.80" cy="145.50" r="2.76" fill="#2a48f2"/>
<circle cx="574.20" cy="145.00" r="2.81" fill="#2a48f2"/>
<circle cx="574.60" cy="144.50" r="2.85" fill="#2a48f2"/>
<circle cx="575.00" cy="144.00" r="2.89" fill="#2a48f2"/>
<circle cx="575.40" cy="143.50" r="2.94" fill="#2a48f2"/>
<circle cx="575.80" cy="143.00" r="2.98" fill="#2a48f2"/>
<circle cx="576.17" cy="142.47" r="3.02" fill="#2a48f2"/>
<circle cx="576.53" cy="141.93" r="3.06" fill="#2a48f2"/>
<circle cx="576.90" cy="141.40" r="3.11" fill="#2a48f2"/>
<circle cx="577.27" cy="140.87" r="3.15" fill="#2a48f2"/>
<circle cx="577.63" cy="140.33" r="3.19" fill="#2a48f2"/>
<circle cx="578.00" cy="139.80" r="3.23" fill="#2a48f2"/>
<circle cx="578.33" cy="139.30" r="3.28" fill="#2a48f2"/>
<circle cx="578.67" cy="138.80" r="3.32" fill="#2a48f2"/>
<circle cx="579.00" cy="138.30" r="3.36" fill="#2a48f2"/>
<circle cx="579.33" cy="137.80" r="3.40" fill="#2a48f2"/>
<circle cx="579.67" cy="137.30" r="3.45" fill="#2a48f2"/>
<circle cx="580.00" cy="136.80" r="3.49" fill="#2a48f2"/>
<circle cx="580.30" cy="136.37" r="3.53" fill="#2a48f2"/>
<circle cx="580.60" cy="135.93" r="3.57" fill="#2a48f2"/>
<circle cx="580.90" cy="135.50" r="3.62" fill="#2a48f2"/>
<circle cx="581.20" cy="135.07" r="3.66" fill="#2a48f2"/>
<circle cx="581.50" cy="134.63" r="3.70" fill="#2a48f2"/>
<circle cx="581.80" cy="134.20" r="3.74" fill="#2a48f2"/>
<circle cx="582.03" cy="133.87" r="3.79" fill="#2a48f2"/>
<circle cx="582.27" cy="133.53" r="3.83" fill="#2a48f2"/>
<circle cx="582.50" cy="133.20" r="3.59" fill="#2a48f2"/>
<circle cx="582.73" cy="132.87" r="3.27" fill="#2a48f2"/>
<circle cx="582.97" cy="132.53" r="2.94" fill="#2a48f2"/>
<circle cx="583.20" cy="132.20" r="2.60" fill="#2a48f2"/>
<circle cx="564.00" cy="151.10" r="0.63" fill="#16b8ee"/>
<circle cx="564.58" cy="150.98" r="0.68" fill="#16b8ee"/>
<circle cx="565.17" cy="150.87" r="0.73" fill="#16b8ee"/>
<circle cx="565.75" cy="150.75" r="0.78" fill="#16b8ee"/>
<circle cx="566.33" cy="150.63" r="0.83" fill="#16b8ee"/>
<circle cx="566.92" cy="150.52" r="0.88" fill="#16b8ee"/>
<circle cx="567.50" cy="150.40" r="0.93" fill="#16b8ee"/>
<circle cx="568.02" cy="150.10" r="0.98" fill="#16b8ee"/>
<circle cx="568.53" cy="149.80" r="1.03" fill="#16b8ee"/>
<circle cx="569.05" cy="149.50" r="1.08" fill="#16b8ee"/>
<circle cx="569.57" cy="149.20" r="1.13" fill="#16b8ee"/>
<circle cx="570.08" cy="148.90" r="1.18" fill="#16b8ee"/>
<circle cx="570.60" cy="148.60" r="1.23" fill="#16b8ee"/>
<circle cx="571.07" cy="148.17" r="1.28" fill="#16b8ee"/>
<circle cx="571.53" cy="147.73" r="1.33" fill="#16b8ee"/>
<circle cx="572.00" cy="147.30" r="1.38" fill="#16b8ee"/>
<circle cx="572.47" cy="146.87" r="1.43" fill="#16b8ee"/>
<circle cx="572.93" cy="146.43" r="1.48" fill="#16b8ee"/>
<circle cx="573.40" cy="146.00" r="1.53" fill="#16b8ee"/>
<circle cx="573.80" cy="145.50" r="1.58" fill="#16b8ee"/>
<circle cx="574.20" cy="145.00" r="1.63" fill="#16b8ee"/>
<circle cx="574.60" cy="144.50" r="1.68" fill="#16b8ee"/>
<circle cx="575.00" cy="144.00" r="1.73" fill="#16b8ee"/>
<circle cx="575.40" cy="143.50" r="1.78" fill="#16b8ee"/>
<circle cx="575.80" cy="143.00" r="1.83" fill="#16b8ee"/>
<circle cx="576.17" cy="142.47" r="1.88" fill="#16b8ee"/>
<circle cx="576.53" cy="141.93" r="1.93" fill="#16b8ee"/>
<circle cx="576.90" cy="141.40" r="1.98" fill="#16b8ee"/>
<circle cx="577.27" cy="140.87" r="2.03" fill="#16b8ee"/>
<circle cx="577.63" cy="140.33" r="2.08" fill="#16b8ee"/>
<circle cx="578.00" cy="139.80" r="2.13" fill="#16b8ee"/>
<circle cx="578.33" cy="139.30" r="2.18" fill="#16b8ee"/>
<circle cx="578.67" cy="138.80" r="2.23" fill="#16b8ee"/>
<circle cx="579.00" cy="138.30" r="2.28" fill="#16b8ee"/>
<circle cx="579.33" cy="137.80" r="2.33" fill="#16b8ee"/>
<circle cx="579.67" cy="137.30" r="2.38" fill="#16b8ee"/>
<circle cx="580.00" cy="136.80" r="2.43" fill="#16b8ee"/>
<circle cx="580.30" cy="136.37" r="2.48" fill="#16b8ee"/>
<circle cx="580.60" cy="135.93" r="2.53" fill="#16b8ee"/>
<circle cx="580.90" cy="135.50" r="2.58" fill="#16b8ee"/>
<circle cx="581.20" cy="135.07" r="2.63" fill="#16b8ee"/>
<circle cx="581.50" cy="134.63" r="2.68" fill="#16b8ee"/>
<circle cx="581.80" cy="134.20" r="2.73" fill="#16b8ee"/>
<circle cx="582.03" cy="133.87" r="2.78" fill="#16b8ee"/>
<circle cx="582.27" cy="133.53" r="2.83" fill="#16b8ee"/>
<circle cx="582.50" cy="133.20" r="2.67" fill="#16b8ee"/>
<circle cx="582.73" cy="132.87" r="2.44" fill="#16b8ee"/>
<circle cx="582.97" cy="132.53" r="2.21" fill="#16b8ee"/>
<circle cx="572.93" cy="146.43" r="0.42" fill="#35d66a"/>
<circle cx="573.40" cy="146.00" r="0.48" fill="#35d66a"/>
<circle cx="573.80" cy="145.50" r="0.55" fill="#35d66a"/>
<circle cx="574.20" cy="145.00" r="0.61" fill="#35d66a"/>
<circle cx="574.60" cy="144.50" r="0.67" fill="#35d66a"/>
<circle cx="575.00" cy="144.00" r="0.73" fill="#35d66a"/>
<circle cx="575.40" cy="143.50" r="0.80" fill="#35d66a"/>
<circle cx="575.80" cy="143.00" r="0.86" fill="#35d66a"/>
<circle cx="576.17" cy="142.47" r="0.92" fill="#35d66a"/>
<circle cx="576.53" cy="141.93" r="0.99" fill="#35d66a"/>
<circle cx="576.90" cy="141.40" r="1.05" fill="#35d66a"/>
<circle cx="577.27" cy="140.87" r="1.11" fill="#35d66a"/>
<circle cx="577.63" cy="140.33" r="1.17" fill="#35d66a"/>
<circle cx="578.00" cy="139.80" r="1.24" fill="#35d66a"/>
<circle cx="578.33" cy="139.30" r="1.30" fill="#35d66a"/>
<circle cx="578.67" cy="138.80" r="1.36" fill="#35d66a"/>
<circle cx="579.00" cy="138.30" r="1.43" fill="#35d66a"/>
<circle cx="579.33" cy="137.80" r="1.49" fill="#35d66a"/>
<circle cx="579.67" cy="137.30" r="1.55" fill="#35d66a"/>
<circle cx="580.00" cy="136.80" r="1.61" fill="#35d66a"/>
<circle cx="580.30" cy="136.37" r="1.68" fill="#35d66a"/>
<circle cx="580.60" cy="135.93" r="1.74" fill="#35d66a"/>
<circle cx="580.90" cy="135.50" r="1.80" fill="#35d66a"/>
<circle cx="581.20" cy="135.07" r="1.87" fill="#35d66a"/>
<circle cx="581.50" cy="134.63" r="1.93" fill="#35d66a"/>
<circle cx="581.80" cy="134.20" r="1.99" fill="#35d66a"/>
<circle cx="582.03" cy="133.87" r="2.05" fill="#35d66a"/>
<circle cx="582.27" cy="133.53" r="2.12" fill="#35d66a"/>
<circle cx="582.50" cy="133.20" r="2.02" fill="#35d66a"/>
<circle cx="582.73" cy="132.87" r="1.87" fill="#35d66a"/>
<circle cx="576.90" cy="141.40" r="0.44" fill="#c8e832"/>
<circle cx="577.27" cy="140.87" r="0.51" fill="#c8e832"/>
<circle cx="577.63" cy="140.33" r="0.57" fill="#c8e832"/>
<circle cx="578.00" cy="139.80" r="0.64" fill="#c8e832"/>
<circle cx="578.33" cy="139.30" r="0.71" fill="#c8e832"/>
<circle cx="578.67" cy="138.80" r="0.77" fill="#c8e832"/>
<circle cx="579.00" cy="138.30" r="0.84" fill="#c8e832"/>
<circle cx="579.33" cy="137.80" r="0.91" fill="#c8e832"/>
<circle cx="579.67" cy="137.30" r="0.98" fill="#c8e832"/>
<circle cx="580.00" cy="136.80" r="1.04" fill="#c8e832"/>
<circle cx="580.30" cy="136.37" r="1.11" fill="#c8e832"/>
<circle cx="580.60" cy="135.93" r="1.18" fill="#c8e832"/>
<circle cx="580.90" cy="135.50" r="1.24" fill="#c8e832"/>
<circle cx="581.20" cy="135.07" r="1.31" fill="#c8e832"/>
<circle cx="581.50" cy="134.63" r="1.38" fill="#c8e832"/>
<circle cx="581.80" cy="134.20" r="1.44" fill="#c8e832"/>
<circle cx="582.03" cy="133.87" r="1.51" fill="#c8e832"/>
<circle cx="582.27" cy="133.53" r="1.58" fill="#c8e832"/>
<circle cx="582.50" cy="133.20" r="1.53" fill="#c8e832"/>
<circle cx="579.00" cy="138.30" r="0.49" fill="#f6b21a"/>
<circle cx="579.33" cy="137.80" r="0.55" fill="#f6b21a"/>
<circle cx="579.67" cy="137.30" r="0.61" fill="#f6b21a"/>
<circle cx="580.00" cy="136.80" r="0.67" fill="#f6b21a"/>
<circle cx="580.30" cy="136.37" r="0.72" fill="#f6b21a"/>
<circle cx="580.60" cy="135.93" r="0.78" fill="#f6b21a"/>
<circle cx="580.90" cy="135.50" r="0.84" fill="#f6b21a"/>
<circle cx="581.20" cy="135.07" r="0.90" fill="#f6b21a"/>
<circle cx="581.50" cy="134.63" r="0.96" fill="#f6b21a"/>
<circle cx="581.80" cy="134.20" r="1.02" fill="#f6b21a"/>
<circle cx="582.03" cy="133.87" r="1.08" fill="#f6b21a"/>
<circle cx="582.27" cy="133.53" r="1.14" fill="#f6b21a"/>
<circle cx="580.30" cy="136.37" r="0.49" fill="#f0441a"/>
<circle cx="580.60" cy="135.93" r="0.53" fill="#f0441a"/>
<circle cx="580.90" cy="135.50" r="0.57" fill="#f0441a"/>
<circle cx="581.20" cy="135.07" r="0.61" fill="#f0441a"/>
<circle cx="581.50" cy="134.63" r="0.66" fill="#f0441a"/>
<circle cx="581.80" cy="134.20" r="0.70" fill="#f0441a"/>
</g>
<rect x="545.9" y="137.2" width="0.6" height="0.6" fill="#3a55f0" opacity="0.75"/>
<rect x="567.7" y="152.6" width="0.6" height="0.6" fill="#3a55f0" opacity="0.75"/>
<rect x="570.8" y="144.2" width="0.6" height="0.6" fill="#3a55f0" opacity="0.75"/>
<rect x="543.5" y="148.1" width="0.6" height="0.6" fill="#3a55f0" opacity="0.75"/>
<rect x="550.2" y="140.1" width="0.6" height="0.6" fill="#3a55f0" opacity="0.75"/>
<rect x="569.1" y="147.9" width="0.6" height="0.6" fill="#3a55f0" opacity="0.75"/>
<rect x="581.3" y="133.6" width="0.6" height="0.6" fill="#3a55f0" opacity="0.75"/>
<rect x="546.0" y="143.5" width="0.6" height="0.6" fill="#3a55f0" opacity="0.75"/>
<rect x="572.1" y="151.7" width="0.6" height="0.6" fill="#3a55f0" opacity="0.75"/>
<rect x="554.9" y="141.2" width="0.6" height="0.6" fill="#3a55f0" opacity="0.75"/>
<rect x="563.1" y="149.7" width="0.6" height="0.6" fill="#3a55f0" opacity="0.75"/>
<rect x="560.7" y="145.7" width="0.6" height="0.6" fill="#3a55f0" opacity="0.75"/>
<rect x="549.8" y="140.3" width="0.6" height="0.6" fill="#3a55f0" opacity="0.75"/>
<rect x="582.5" y="128.1" width="0.6" height="0.6" fill="#3a55f0" opacity="0.75"/>
<rect x="565.7" y="144.1" width="0.6" height="0.6" fill="#3a55f0" opacity="0.75"/>
<rect x="567.4" y="143.7" width="0.6" height="0.6" fill="#3a55f0" opacity="0.75"/>
<rect x="579.9" y="135.4" width="0.6" height="0.6" fill="#3a55f0" opacity="0.75"/>
<rect x="555.0" y="154.1" width="0.6" height="0.6" fill="#3a55f0" opacity="0.75"/>
<rect x="551.6" y="143.9" width="0.6" height="0.6" fill="#3a55f0" opacity="0.75"/>
<rect x="581.6" y="129.9" width="0.6" height="0.6" fill="#3a55f0" opacity="0.75"/>
<rect x="566.0" y="143.3" width="0.6" height="0.6" fill="#3a55f0" opacity="0.75"/>
<rect x="572.6" y="141.9" width="0.6" height="0.6" fill="#3a55f0" opacity="0.75"/>
<rect x="541.1" y="152.5" width="0.6" height="0.6" fill="#3a55f0" opacity="0.75"/>
<rect x="544.8" y="141.1" width="0.6" height="0.6" fill="#3a55f0" opacity="0.75"/>
<rect x="559.1" y="147.0" width="0.6" height="0.6" fill="#3a55f0" opacity="0.75"/>
<rect x="567.7" y="142.3" width="0.6" height="0.6" fill="#3a55f0" opacity="0.75"/>
<rect x="576.9" y="136.4" width="0.6" height="0.6" fill="#3a55f0" opacity="0.75"/>
<rect x="577.2" y="140.0" width="0.6" height="0.6" fill="#3a55f0" opacity="0.75"/>
<rect x="549.2" y="153.3" width="0.6" height="0.6" fill="#3a55f0" opacity="0.75"/>
<rect x="558.8" y="147.2" width="0.6" height="0.6" fill="#3a55f0" opacity="0.75"/>
<rect x="572.6" y="143.9" width="0.6" height="0.6" fill="#3a55f0" opacity="0.75"/>
<rect x="547.4" y="148.4" width="0.6" height="0.6" fill="#3a55f0" opacity="0.75"/>
<rect x="553.9" y="145.3" width="0.6" height="0.6" fill="#3a55f0" opacity="0.75"/>
<rect x="584.5" y="126.5" width="0.6" height="0.6" fill="#3a55f0" opacity="0.75"/>
<rect x="556.1" y="142.0" width="0.6" height="0.6" fill="#3a55f0" opacity="0.75"/>
<rect x="562.0" y="155.4" width="0.6" height="0.6" fill="#3a55f0" opacity="0.75"/>
<rect x="579.7" y="132.0" width="0.6" height="0.6" fill="#3a55f0" opacity="0.75"/>
<rect x="568.3" y="143.4" width="0.6" height="0.6" fill="#3a55f0" opacity="0.75"/>
<rect x="564.7" y="152.4" width="0.6" height="0.6" fill="#3a55f0" opacity="0.75"/>
<rect x="543.1" y="132.6" width="0.6" height="0.6" fill="#3a55f0" opacity="0.75"/>
<rect x="541.8" y="139.7" width="0.6" height="0.6" fill="#3a55f0" opacity="0.75"/>
<rect x="574.5" y="145.9" width="0.6" height="0.6" fill="#3a55f0" opacity="0.75"/>
<rect x="583.5" y="134.2" width="0.6" height="0.6" fill="#3a55f0" opacity="0.75"/>
<rect x="555.4" y="144.3" width="0.6" height="0.6" fill="#3a55f0" opacity="0.75"/>
<rect x="554.9" y="138.3" width="0.6" height="0.6" fill="#3a55f0" opacity="0.75"/>
<rect x="543.8" y="142.5" width="0.6" height="0.6" fill="#3a55f0" opacity="0.75"/>
<rect x="566.5" y="148.2" width="0.6" height="0.6" fill="#3a55f0" opacity="0.75"/>
<rect x="542.2" y="148.7" width="0.6" height="0.6" fill="#3a55f0" opacity="0.75"/>
<rect x="572.8" y="147.7" width="0.6" height="0.6" fill="#3a55f0" opacity="0.75"/>
<rect x="579.4" y="137.1" width="0.6" height="0.6" fill="#3a55f0" opacity="0.75"/>
<rect x="573.0" y="148.5" width="0.6" height="0.6" fill="#3a55f0" opacity="0.75"/>
<rect x="547.9" y="139.9" width="0.6" height="0.6" fill="#3a55f0" opacity="0.75"/>
<rect x="570.5" y="148.4" width="0.6" height="0.6" fill="#3a55f0" opacity="0.75"/>
<rect x="553.1" y="141.2" width="0.6" height="0.6" fill="#3a55f0" opacity="0.75"/>
<rect x="555.6" y="143.2" width="0.6" height="0.6" fill="#3a55f0" opacity="0.75"/>
<rect x="543.2" y="140.1" width="0.6" height="0.6" fill="#3a55f0" opacity="0.75"/>
<rect x="582.6" y="135.4" width="0.6" height="0.6" fill="#3a55f0" opacity="0.75"/>
<rect x="564.5" y="145.5" width="0.6" height="0.6" fill="#3a55f0" opacity="0.75"/>
<rect x="582.9" y="132.6" width="0.6" height="0.6" fill="#3a55f0" opacity="0.75"/>
<rect x="563.7" y="149.8" width="0.6" height="0.6" fill="#3a55f0" opacity="0.75"/>
<rect x="575.3" y="139.4" width="0.6" height="0.6" fill="#3a55f0" opacity="0.75"/>
<rect x="545.0" y="139.4" width="0.6" height="0.6" fill="#3a55f0" opacity="0.75"/>
<rect x="562.5" y="148.5" width="0.6" height="0.6" fill="#3a55f0" opacity="0.75"/>
<rect x="555.1" y="145.0" width="0.6" height="0.6" fill="#3a55f0" opacity="0.75"/>
<rect x="545.9" y="135.0" width="0.6" height="0.6" fill="#3a55f0" opacity="0.75"/>
<rect x="571.6" y="148.5" width="0.6" height="0.6" fill="#3a55f0" opacity="0.75"/>
<rect x="558.2" y="138.8" width="0.6" height="0.6" fill="#3a55f0" opacity="0.75"/>
<rect x="542.1" y="144.2" width="0.6" height="0.6" fill="#3a55f0" opacity="0.75"/>
<rect x="583.0" y="129.2" width="0.6" height="0.6" fill="#3a55f0" opacity="0.75"/>
<rect x="579.4" y="136.7" width="0.6" height="0.6" fill="#3a55f0" opacity="0.75"/>
<rect x="568.5" y="146.7" width="0.6" height="0.6" fill="#3a55f0" opacity="0.75"/>
<rect x="588.8" y="133.7" width="0.6" height="0.6" fill="#3a55f0" opacity="0.75"/>
<rect x="547.0" y="147.3" width="0.6" height="0.6" fill="#3a55f0" opacity="0.75"/>
<rect x="553.7" y="148.3" width="0.6" height="0.6" fill="#3a55f0" opacity="0.75"/>
<rect x="544.3" y="154.4" width="0.6" height="0.6" fill="#3a55f0" opacity="0.75"/>
<rect x="577.0" y="150.3" width="0.6" height="0.6" fill="#3a55f0" opacity="0.75"/>
<rect x="563.1" y="152.6" width="0.6" height="0.6" fill="#3a55f0" opacity="0.75"/>
<rect x="568.9" y="147.3" width="0.6" height="0.6" fill="#3a55f0" opacity="0.75"/>
<rect x="551.0" y="141.2" width="0.6" height="0.6" fill="#3a55f0" opacity="0.75"/>
<rect x="563.2" y="147.2" width="0.6" height="0.6" fill="#3a55f0" opacity="0.75"/>
<rect x="555.3" y="141.5" width="0.6" height="0.6" fill="#3a55f0" opacity="0.75"/>
<rect x="545.4" y="140.9" width="0.6" height="0.6" fill="#3a55f0" opacity="0.75"/>
<rect x="545.4" y="146.0" width="0.6" height="0.6" fill="#3a55f0" opacity="0.75"/>
<rect x="550.5" y="143.2" width="0.6" height="0.6" fill="#3a55f0" opacity="0.75"/>
<rect x="583.2" y="131.4" width="0.6" height="0.6" fill="#3a55f0" opacity="0.75"/>
<rect x="572.0" y="147.3" width="0.6" height="0.6" fill="#3a55f0" opacity="0.75"/>
<rect x="569.5" y="148.5" width="0.6" height="0.6" fill="#3a55f0" opacity="0.75"/>
<rect x="546.6" y="148.4" width="0.6" height="0.6" fill="#3a55f0" opacity="0.75"/>
<rect x="572.5" y="151.0" width="0.6" height="0.6" fill="#3a55f0" opacity="0.75"/>
<rect x="575.0" y="144.5" width="0.6" height="0.6" fill="#3a55f0" opacity="0.75"/>
<rect x="544.9" y="142.4" width="0.6" height="0.6" fill="#3a55f0" opacity="0.75"/>
<rect x="586.3" y="132.3" width="0.6" height="0.6" fill="#3a55f0" opacity="0.75"/>
<rect x="546.9" y="142.5" width="0.6" height="0.6" fill="#3a55f0" opacity="0.75"/>
<rect x="578.8" y="136.3" width="0.6" height="0.6" fill="#3a55f0" opacity="0.75"/>
<rect x="552.3" y="137.5" width="0.6" height="0.6" fill="#3a55f0" opacity="0.75"/>
<rect x="572.6" y="142.3" width="0.6" height="0.6" fill="#3a55f0" opacity="0.75"/>
<rect x="546.0" y="146.7" width="0.6" height="0.6" fill="#3a55f0" opacity="0.75"/>
<rect x="583.2" y="134.2" width="0.6" height="0.6" fill="#3a55f0" opacity="0.75"/>
<rect x="564.7" y="143.8" width="0.6" height="0.6" fill="#3a55f0" opacity="0.75"/>
<rect x="550.5" y="144.0" width="0.6" height="0.6" fill="#3a55f0" opacity="0.75"/>
<rect x="563.2" y="141.0" width="0.6" height="0.6" fill="#3a55f0" opacity="0.75"/>
<rect x="560.0" y="150.3" width="0.6" height="0.6" fill="#3a55f0" opacity="0.75"/>
<rect x="560.2" y="149.2" width="0.6" height="0.6" fill="#3a55f0" opacity="0.75"/>
<rect x="577.7" y="146.8" width="0.6" height="0.6" fill="#3a55f0" opacity="0.75"/>
<rect x="554.4" y="144.6" width="0.6" height="0.6" fill="#3a55f0" opacity="0.75"/>
<rect x="564.1" y="144.3" width="0.6" height="0.6" fill="#3a55f0" opacity="0.75"/>
<rect x="575.2" y="149.9" width="0.6" height="0.6" fill="#3a55f0" opacity="0.75"/>
<rect x="581.8" y="131.0" width="0.6" height="0.6" fill="#3a55f0" opacity="0.75"/>
<rect x="576.6" y="131.7" width="0.6" height="0.6" fill="#3a55f0" opacity="0.75"/>
<rect x="575.9" y="143.8" width="0.6" height="0.6" fill="#3a55f0" opacity="0.75"/>
<rect x="558.0" y="153.0" width="0.6" height="0.6" fill="#3a55f0" opacity="0.75"/>
<rect x="577.9" y="136.6" width="0.6" height="0.6" fill="#3a55f0" opacity="0.75"/>
<rect x="574.8" y="142.3" width="0.6" height="0.6" fill="#3a55f0" opacity="0.75"/>
<rect x="574.6" y="138.2" width="0.6" height="0.6" fill="#3a55f0" opacity="0.75"/>
<rect x="571.5" y="148.5" width="0.6" height="0.6" fill="#3a55f0" opacity="0.75"/>
<rect x="538.3" y="141.3" width="0.6" height="0.6" fill="#3a55f0" opacity="0.75"/>
<rect x="550.0" y="144.3" width="0.6" height="0.6" fill="#3a55f0" opacity="0.75"/>
<rect x="547.8" y="143.0" width="0.6" height="0.6" fill="#3a55f0" opacity="0.75"/>
<rect x="570.3" y="153.2" width="0.6" height="0.6" fill="#3a55f0" opacity="0.75"/>
<rect x="570.3" y="143.2" width="0.6" height="0.6" fill="#3a55f0" opacity="0.75"/>
<rect x="549.4" y="148.5" width="0.6" height="0.6" fill="#3a55f0" opacity="0.75"/>
<rect x="579.3" y="133.0" width="0.6" height="0.6" fill="#3a55f0" opacity="0.75"/>
<rect x="543.7" y="145.5" width="0.6" height="0.6" fill="#3a55f0" opacity="0.75"/>
<rect x="565.5" y="150.7" width="0.6" height="0.6" fill="#3a55f0" opacity="0.75"/>
<rect x="574.2" y="147.6" width="0.6" height="0.6" fill="#3a55f0" opacity="0.75"/>
<rect x="568.4" y="140.1" width="0.6" height="0.6" fill="#3a55f0" opacity="0.75"/>
<rect x="582.8" y="132.0" width="0.6" height="0.6" fill="#3a55f0" opacity="0.75"/>
<rect x="544.9" y="138.1" width="0.6" height="0.6" fill="#3a55f0" opacity="0.75"/>
<rect x="569.0" y="146.0" width="0.6" height="0.6" fill="#3a55f0" opacity="0.75"/>
<rect x="547.9" y="134.8" width="0.6" height="0.6" fill="#3a55f0" opacity="0.75"/>
<rect x="570.1" y="147.2" width="0.6" height="0.6" fill="#3a55f0" opacity="0.75"/>
<rect x="569.8" y="145.3" width="0.6" height="0.6" fill="#3a55f0" opacity="0.75"/>
<rect x="573.0" y="136.3" width="0.6" height="0.6" fill="#3a55f0" opacity="0.75"/>
<rect x="569.4" y="152.3" width="0.6" height="0.6" fill="#3a55f0" opacity="0.75"/>
<rect x="584.9" y="138.2" width="0.6" height="0.6" fill="#3a55f0" opacity="0.75"/>
<rect x="560.5" y="153.6" width="0.6" height="0.6" fill="#3a55f0" opacity="0.75"/>
<rect x="551.3" y="140.2" width="0.6" height="0.6" fill="#3a55f0" opacity="0.75"/>
<rect x="567.8" y="149.9" width="0.6" height="0.6" fill="#3a55f0" opacity="0.75"/>
<rect x="565.3" y="143.4" width="0.6" height="0.6" fill="#3a55f0" opacity="0.75"/>
<rect x="566.8" y="144.8" width="0.6" height="0.6" fill="#3a55f0" opacity="0.75"/>
<rect x="550.3" y="144.8" width="0.6" height="0.6" fill="#3a55f0" opacity="0.75"/>
<rect x="574.5" y="150.7" width="0.6" height="0.6" fill="#3a55f0" opacity="0.75"/>
<rect x="559.9" y="145.2" width="0.6" height="0.6" fill="#3a55f0" opacity="0.75"/>
<rect x="533.6" y="143.5" width="0.6" height="0.6" fill="#3a55f0" opacity="0.75"/>
<rect x="543.4" y="138.3" width="0.6" height="0.6" fill="#3a55f0" opacity="0.75"/>
<rect x="543.3" y="150.1" width="0.6" height="0.6" fill="#3a55f0" opacity="0.75"/>
<rect x="569.4" y="145.1" width="0.6" height="0.6" fill="#3a55f0" opacity="0.75"/>
<rect x="558.6" y="146.7" width="0.6" height="0.6" fill="#3a55f0" opacity="0.75"/>
<rect x="542.2" y="140.2" width="0.6" height="0.6" fill="#3a55f0" opacity="0.75"/>
<rect x="545.4" y="143.7" width="0.6" height="0.6" fill="#3a55f0" opacity="0.75"/>
<rect x="567.3" y="149.3" width="0.6" height="0.6" fill="#3a55f0" opacity="0.75"/>
<rect x="550.3" y="146.0" width="0.6" height="0.6" fill="#3a55f0" opacity="0.75"/>
<rect x="581.4" y="136.7" width="0.6" height="0.6" fill="#3a55f0" opacity="0.75"/>
<rect x="569.4" y="148.6" width="0.6" height="0.6" fill="#3a55f0" opacity="0.75"/>
<rect x="564.0" y="144.9" width="0.6" height="0.6" fill="#3a55f0" opacity="0.75"/>
<rect x="549.4" y="150.0" width="0.6" height="0.6" fill="#3a55f0" opacity="0.75"/>
<rect x="551.3" y="149.5" width="0.6" height="0.6" fill="#3a55f0" opacity="0.75"/>
<rect x="572.8" y="143.7" width="0.6" height="0.6" fill="#3a55f0" opacity="0.75"/>
<rect x="543.5" y="153.2" width="0.6" height="0.6" fill="#3a55f0" opacity="0.75"/>
<rect x="549.3" y="142.3" width="0.6" height="0.6" fill="#3a55f0" opacity="0.75"/>
<rect x="572.0" y="141.9" width="0.6" height="0.6" fill="#3a55f0" opacity="0.75"/>
<rect x="570.2" y="153.9" width="0.6" height="0.6" fill="#3a55f0" opacity="0.75"/>
<rect x="559.1" y="141.7" width="0.6" height="0.6" fill="#3a55f0" opacity="0.75"/>
<rect x="574.6" y="146.4" width="0.6" height="0.6" fill="#3a55f0" opacity="0.75"/>
<rect x="572.5" y="144.6" width="0.6" height="0.6" fill="#3a55f0" opacity="0.75"/>
<rect x="548.4" y="145.5" width="0.6" height="0.6" fill="#3a55f0" opacity="0.75"/>
<rect x="551.7" y="135.8" width="0.6" height="0.6" fill="#3a55f0" opacity="0.75"/>
<rect x="548.0" y="145.7" width="0.6" height="0.6" fill="#3a55f0" opacity="0.75"/>
<rect x="571.4" y="148.7" width="0.6" height="0.6" fill="#3a55f0" opacity="0.75"/>
<rect x="569.2" y="141.7" width="0.6" height="0.6" fill="#3a55f0" opacity="0.75"/>
<rect x="562.0" y="144.7" width="0.6" height="0.6" fill="#3a55f0" opacity="0.75"/>
<rect x="543.9" y="143.6" width="0.6" height="0.6" fill="#3a55f0" opacity="0.75"/>
<rect x="554.2" y="153.3" width="0.6" height="0.6" fill="#3a55f0" opacity="0.75"/>
<rect x="549.5" y="144.7" width="0.6" height="0.6" fill="#3a55f0" opacity="0.75"/>
<rect x="552.7" y="140.3" width="0.6" height="0.6" fill="#3a55f0" opacity="0.75"/>
<rect x="564.0" y="145.6" width="0.6" height="0.6" fill="#3a55f0" opacity="0.75"/>
<rect x="571.6" y="145.7" width="0.6" height="0.6" fill="#3a55f0" opacity="0.75"/>
<rect x="569.4" y="140.9" width="0.6" height="0.6" fill="#3a55f0" opacity="0.75"/>
<rect x="561.5" y="153.1" width="0.6" height="0.6" fill="#3a55f0" opacity="0.75"/>
<rect x="561.6" y="144.1" width="0.6" height="0.6" fill="#3a55f0" opacity="0.75"/>
<rect x="585.6" y="129.2" width="0.6" height="0.6" fill="#3a55f0" opacity="0.75"/>
<rect x="562.6" y="153.4" width="0.6" height="0.6" fill="#3a55f0" opacity="0.75"/>
<rect x="542.3" y="147.6" width="0.6" height="0.6" fill="#3a55f0" opacity="0.75"/>
<rect x="547.9" y="152.0" width="0.6" height="0.6" fill="#3a55f0" opacity="0.75"/>
<rect x="580.0" y="132.1" width="0.6" height="0.6" fill="#3a55f0" opacity="0.75"/>
<rect x="583.8" y="135.4" width="0.6" height="0.6" fill="#3a55f0" opacity="0.75"/>
<rect x="576.9" y="143.3" width="0.6" height="0.6" fill="#3a55f0" opacity="0.75"/>
<rect x="546.4" y="140.1" width="0.6" height="0.6" fill="#3a55f0" opacity="0.75"/>
<rect x="546.5" y="145.2" width="0.6" height="0.6" fill="#3a55f0" opacity="0.75"/>
<rect x="554.5" y="146.4" width="0.6" height="0.6" fill="#3a55f0" opacity="0.75"/>
<rect x="560.3" y="148.3" width="0.6" height="0.6" fill="#3a55f0" opacity="0.75"/>
<rect x="564.6" y="150.0" width="0.6" height="0.6" fill="#3a55f0" opacity="0.75"/>
<rect x="566.8" y="149.3" width="0.6" height="0.6" fill="#3a55f0" opacity="0.75"/>
<rect x="543.6" y="149.6" width="0.6" height="0.6" fill="#3a55f0" opacity="0.75"/>
<rect x="584.3" y="134.8" width="0.6" height="0.6" fill="#3a55f0" opacity="0.75"/>
<rect x="545.5" y="134.6" width="0.6" height="0.6" fill="#3a55f0" opacity="0.75"/>
<rect x="541.1" y="152.8" width="0.6" height="0.6" fill="#3a55f0" opacity="0.75"/>
<rect x="541.5" y="137.0" width="0.6" height="0.6" fill="#3a55f0" opacity="0.75"/>
<rect x="549.1" y="143.1" width="0.6" height="0.6" fill="#3a55f0" opacity="0.75"/>
<rect x="551.8" y="147.3" width="0.6" height="0.6" fill="#3a55f0" opacity="0.75"/>
<rect x="559.7" y="144.9" width="0.6" height="0.6" fill="#3a55f0" opacity="0.75"/>
<rect x="542.2" y="140.8" width="0.6" height="0.6" fill="#3a55f0" opacity="0.75"/>
<rect x="579.9" y="133.8" width="0.6" height="0.6" fill="#3a55f0" opacity="0.75"/>
<rect x="564.6" y="148.1" width="0.6" height="0.6" fill="#3a55f0" opacity="0.75"/>
<rect x="550.3" y="148.2" width="0.6" height="0.6" fill="#3a55f0" opacity="0.75"/>
<rect x="581.3" y="129.7" width="0.6" height="0.6" fill="#3a55f0" opacity="0.75"/>
<rect x="546.8" y="147.2" width="0.6" height="0.6" fill="#3a55f0" opacity="0.75"/>
<rect x="563.0" y="132.2" width="0.6" height="0.6" fill="#3a55f0" opacity="0.75"/>
<rect x="562.1" y="141.1" width="0.6" height="0.6" fill="#3a55f0" opacity="0.75"/>
<rect x="563.2" y="139.8" width="0.6" height="0.6" fill="#3a55f0" opacity="0.75"/>
<rect x="536.3" y="134.5" width="0.6" height="0.6" fill="#3a55f0" opacity="0.75"/>
<rect x="586.6" y="135.5" width="0.6" height="0.6" fill="#3a55f0" opacity="0.75"/>
<rect x="568.3" y="144.8" width="0.6" height="0.6" fill="#3a55f0" opacity="0.75"/>
<rect x="571.9" y="150.7" width="0.6" height="0.6" fill="#3a55f0" opacity="0.75"/>
<rect x="560.2" y="151.1" width="0.6" height="0.6" fill="#3a55f0" opacity="0.75"/>
<rect x="582.1" y="144.6" width="0.6" height="0.6" fill="#3a55f0" opacity="0.75"/>
<rect x="568.6" y="144.2" width="0.6" height="0.6" fill="#3a55f0" opacity="0.75"/>
<rect x="565.6" y="148.3" width="0.6" height="0.6" fill="#3a55f0" opacity="0.75"/>
<rect x="546.0" y="151.3" width="0.6" height="0.6" fill="#3a55f0" opacity="0.75"/>
<rect x="561.0" y="147.9" width="0.6" height="0.6" fill="#3a55f0" opacity="0.75"/>
<rect x="544.6" y="145.7" width="0.6" height="0.6" fill="#3a55f0" opacity="0.75"/>
<rect x="544.5" y="148.3" width="0.6" height="0.6" fill="#3a55f0" opacity="0.75"/>
<rect x="547.1" y="143.2" width="0.6" height="0.6" fill="#3a55f0" opacity="0.75"/>
<rect x="550.3" y="146.9" width="0.6" height="0.6" fill="#3a55f0" opacity="0.75"/>
<rect x="546.1" y="152.3" width="0.6" height="0.6" fill="#3a55f0" opacity="0.75"/>
<rect x="572.4" y="140.2" width="0.6" height="0.6" fill="#3a55f0" opacity="0.75"/>
<rect x="541.6" y="138.2" width="0.6" height="0.6" fill="#3a55f0" opacity="0.75"/>
<rect x="566.1" y="140.6" width="0.6" height="0.6" fill="#3a55f0" opacity="0.75"/>
<rect x="563.0" y="140.4" width="0.6" height="0.6" fill="#3a55f0" opacity="0.75"/>
<rect x="567.7" y="145.0" width="0.6" height="0.6" fill="#3a55f0" opacity="0.75"/>
<rect x="566.6" y="144.7" width="0.6" height="0.6" fill="#3a55f0" opacity="0.75"/>
<rect x="566.0" y="148.9" width="0.6" height="0.6" fill="#3a55f0" opacity="0.75"/>
<rect x="575.1" y="140.1" width="0.6" height="0.6" fill="#3a55f0" opacity="0.75"/>
<rect x="553.0" y="142.9" width="0.6" height="0.6" fill="#3a55f0" opacity="0.75"/>
<rect x="564.2" y="141.7" width="0.6" height="0.6" fill="#3a55f0" opacity="0.75"/>
<rect x="573.7" y="144.8" width="0.6" height="0.6" fill="#3a55f0" opacity="0.75"/>
<rect x="543.3" y="145.6" width="0.6" height="0.6" fill="#3a55f0" opacity="0.75"/>
<rect x="576.6" y="145.3" width="0.6" height="0.6" fill="#3a55f0" opacity="0.75"/>
<rect x="554.0" y="143.9" width="0.6" height="0.6" fill="#3a55f0" opacity="0.75"/>
<rect x="551.9" y="150.3" width="0.6" height="0.6" fill="#3a55f0" opacity="0.75"/>
<rect x="579.5" y="127.6" width="0.6" height="0.6" fill="#3a55f0" opacity="0.75"/>
<rect x="557.8" y="141.8" width="0.6" height="0.6" fill="#3a55f0" opacity="0.75"/>
<rect x="545.2" y="147.0" width="0.6" height="0.6" fill="#3a55f0" opacity="0.75"/>
<rect x="547.1" y="144.2" width="0.6" height="0.6" fill="#3a55f0" opacity="0.75"/>
<rect x="584.1" y="133.2" width="0.6" height="0.6" fill="#3a55f0" opacity="0.75"/>
<rect x="550.2" y="140.2" width="0.6" height="0.6" fill="#3a55f0" opacity="0.75"/>
<rect x="560.6" y="146.0" width="0.6" height="0.6" fill="#3a55f0" opacity="0.75"/>
<rect x="567.3" y="147.7" width="0.6" height="0.6" fill="#3a55f0" opacity="0.75"/>
<rect x="569.9" y="142.0" width="0.6" height="0.6" fill="#3a55f0" opacity="0.75"/>
<rect x="540.1" y="148.9" width="0.6" height="0.6" fill="#3a55f0" opacity="0.75"/>
<rect x="568.6" y="146.6" width="0.6" height="0.6" fill="#3a55f0" opacity="0.75"/>
<rect x="541.6" y="140.0" width="0.6" height="0.6" fill="#3a55f0" opacity="0.75"/>
<rect x="536.3" y="150.5" width="0.6" height="0.6" fill="#3a55f0" opacity="0.75"/>
<rect x="547.1" y="140.6" width="0.6" height="0.6" fill="#3a55f0" opacity="0.75"/>
<rect x="566.9" y="147.7" width="0.6" height="0.6" fill="#3a55f0" opacity="0.75"/>
<rect x="553.4" y="146.6" width="0.6" height="0.6" fill="#3a55f0" opacity="0.75"/>
<rect x="574.6" y="140.0" width="0.6" height="0.6" fill="#3a55f0" opacity="0.75"/>
<rect x="548.1" y="138.7" width="0.6" height="0.6" fill="#3a55f0" opacity="0.75"/>
<rect x="582.3" y="130.1" width="0.6" height="0.6" fill="#3a55f0" opacity="0.75"/>
<rect x="543.7" y="143.5" width="0.6" height="0.6" fill="#3a55f0" opacity="0.75"/>
</g>
<rect x="536.4" y="106.3" width="58.80000000000007" height="58.7" fill="none" stroke="#222" stroke-width="0.8"/>
<line x1="559.6" y1="106.3" x2="559.6" y2="165.0" stroke="#444" stroke-width="0.6"/>
<line x1="536.4" y1="147.5" x2="559.6" y2="147.5" stroke="#444" stroke-width="0.6"/>
<line x1="559.6" y1="152.6" x2="595.2" y2="152.6" stroke="#444" stroke-width="0.6"/>
<text x="532.3" y="109.4" font-size="7" text-anchor="end" fill="#1a1a1a">10<tspan font-size="4.6" dy="-2.7">6</tspan></text>
<text x="532.3" y="121.6" font-size="7" text-anchor="end" fill="#1a1a1a">10<tspan font-size="4.6" dy="-2.7">5</tspan></text>
<text x="532.3" y="134.6" font-size="7" text-anchor="end" fill="#1a1a1a">10<tspan font-size="4.6" dy="-2.7">4</tspan></text>
<text x="532.3" y="146.9" font-size="7" text-anchor="end" fill="#1a1a1a">10<tspan font-size="4.6" dy="-2.7">3</tspan></text>
<text x="532.8" y="155.6" font-size="7" text-anchor="end" fill="#111" stroke="#111" stroke-width="0.14" font-weight="normal" >0</text>
<text x="532.3" y="166.3" font-size="7" text-anchor="end" fill="#1a1a1a">−10<tspan font-size="4.6" dy="-2.7">3</tspan></text>
<line x1="534.6" y1="106.6" x2="536.4" y2="106.6" stroke="#222" stroke-width="0.8"/>
<line x1="534.6" y1="118.7" x2="536.4" y2="118.7" stroke="#222" stroke-width="0.8"/>
<line x1="534.6" y1="131.8" x2="536.4" y2="131.8" stroke="#222" stroke-width="0.8"/>
<line x1="534.6" y1="144" x2="536.4" y2="144" stroke="#222" stroke-width="0.8"/>
<line x1="534.6" y1="153" x2="536.4" y2="153" stroke="#222" stroke-width="0.8"/>
<line x1="534.6" y1="163.5" x2="536.4" y2="163.5" stroke="#222" stroke-width="0.8"/>
<line x1="549" y1="165" x2="549" y2="167" stroke="#222" stroke-width="0.8"/>
<line x1="570.8" y1="165" x2="570.8" y2="167" stroke="#222" stroke-width="0.8"/>
<line x1="583" y1="165" x2="583" y2="167" stroke="#222" stroke-width="0.8"/>
<line x1="595" y1="165" x2="595" y2="167" stroke="#222" stroke-width="0.8"/>
<line x1="540" y1="166.3" x2="557" y2="166.3" stroke="#222" stroke-width="1.4" stroke-dasharray="1.2,1"/>
<line x1="535.2" y1="149" x2="535.2" y2="158" stroke="#222" stroke-width="1.4" stroke-dasharray="1.0,0.8"/>
<rect x="534.3" y="151.6" width="2" height="4.6" fill="#111"/>
<rect x="546.8" y="165.2" width="3.2" height="1.8" fill="#111"/>
<text x="549.1" y="175.8" font-size="7" text-anchor="middle" fill="#111" stroke="#111" stroke-width="0.14" font-weight="normal" >0</text>
<text x="571.5" y="175.8" font-size="7" text-anchor="middle" fill="#1a1a1a">10<tspan font-size="4.6" dy="-2.7">4</tspan></text>
<text x="597" y="175.8" font-size="7" text-anchor="middle" fill="#1a1a1a">10<tspan font-size="4.6" dy="-2.7">6</tspan></text>
<text x="566.6" y="188.2" font-size="8.0" text-anchor="middle" fill="#111" stroke="#111" stroke-width="0.14" font-weight="normal" >Dextramer-PE</text>
<text transform="translate(516.1,136.8) rotate(-90)" font-size="8.0" text-anchor="middle" fill="#111" stroke="#111" stroke-width="0.14">2A-AF647</text>
<text x="566.5" y="206.3" font-size="8.2" text-anchor="middle" fill="#111" stroke="#111" stroke-width="0.14" font-weight="normal" >NeoTCR validation</text>
<text x="-0.4" y="239.3" font-size="8.6" text-anchor="start" fill="#000" stroke="#000" stroke-width="0" font-weight="bold" >b</text>
<text x="60.3" y="237.9" font-size="8.2" text-anchor="middle" fill="#111" stroke="#111" stroke-width="0.14" font-weight="normal" >Non-</text>
<text x="60.3" y="247.8" font-size="8.2" text-anchor="middle" fill="#111" stroke="#111" stroke-width="0.14" font-weight="normal" >synonymous</text>
<text x="60.3" y="257.7" font-size="8.2" text-anchor="middle" fill="#111" stroke="#111" stroke-width="0.14" font-weight="normal" >mutations</text>
<text x="129.9" y="247.8" font-size="8.2" text-anchor="middle" fill="#111" stroke="#111" stroke-width="0.14" font-weight="normal" >Screened</text>
<text x="129.9" y="257.7" font-size="8.2" text-anchor="middle" fill="#111" stroke="#111" stroke-width="0.14" font-weight="normal" >mutations</text>
<text x="190.8" y="237.9" font-size="8.2" text-anchor="middle" fill="#111" stroke="#111" stroke-width="0.14" font-weight="normal" >Screened</text>
<text x="190.8" y="247.8" font-size="8.2" text-anchor="middle" fill="#111" stroke="#111" stroke-width="0.14" font-weight="normal" >putative</text>
<text x="190.8" y="257.7" font-size="8.2" text-anchor="middle" fill="#111" stroke="#111" stroke-width="0.14" font-weight="normal" >NeoAg–HLA</text>
<text x="251.8" y="247.8" font-size="8.2" text-anchor="middle" fill="#111" stroke="#111" stroke-width="0.14" font-weight="normal" >Targeted</text>
<text x="251.8" y="257.7" font-size="8.2" text-anchor="middle" fill="#111" stroke="#111" stroke-width="0.14" font-weight="normal" >mutations</text>
<text x="307.6" y="247.8" font-size="8.2" text-anchor="middle" fill="#111" stroke="#111" stroke-width="0.14" font-weight="normal" >TCR</text>
<text x="307.6" y="257.7" font-size="8.2" text-anchor="middle" fill="#111" stroke="#111" stroke-width="0.14" font-weight="normal" >clonotypes</text>
<circle cx="59" cy="293.7" r="25.7" fill="#07699a"/>
<text x="59" y="298.15" font-size="8.2" text-anchor="middle" fill="#fff" stroke="#fff" stroke-width="0.14" font-weight="normal" >3,507</text>
<circle cx="121.1" cy="293.7" r="5.7" fill="#07699a"/>
<text x="135.4" y="296.65" font-size="8.2" text-anchor="middle" fill="#111" stroke="#111" stroke-width="0.14" font-weight="normal" >186</text>
<circle cx="183.9" cy="293.7" r="6.8" fill="#07699a"/>
<text x="199.3" y="296.65" font-size="8.2" text-anchor="middle" fill="#111" stroke="#111" stroke-width="0.14" font-weight="normal" >243</text>
<circle cx="244.1" cy="293.7" r="1.6" fill="#07699a"/>
<text x="256" y="296.65" font-size="8.2" text-anchor="middle" fill="#111" stroke="#111" stroke-width="0.14" font-weight="normal" >11</text>
<circle cx="304.2" cy="293.7" r="3.3" fill="#07699a"/>
<text x="315.6" y="296.65" font-size="8.2" text-anchor="middle" fill="#111" stroke="#111" stroke-width="0.14" font-weight="normal" >41</text>
<circle cx="59" cy="343.3" r="21.9" fill="#4789e2"/>
<text x="59" y="346.25" font-size="8.2" text-anchor="middle" fill="#fff" stroke="#fff" stroke-width="0.14" font-weight="normal" >2,562</text>
<circle cx="121.1" cy="343.3" r="5.7" fill="#4789e2"/>
<text x="135.4" y="346.25" font-size="8.2" text-anchor="middle" fill="#111" stroke="#111" stroke-width="0.14" font-weight="normal" >180</text>
<circle cx="183.9" cy="343.3" r="6.8" fill="#4789e2"/>
<text x="199.3" y="346.25" font-size="8.2" text-anchor="middle" fill="#111" stroke="#111" stroke-width="0.14" font-weight="normal" >243</text>
<circle cx="244.1" cy="343.3" r="0.8" fill="#4789e2"/>
<text x="256" y="346.25" font-size="8.2" text-anchor="middle" fill="#111" stroke="#111" stroke-width="0.14" font-weight="normal" >4</text>
<circle cx="304.2" cy="343.3" r="2.4" fill="#4789e2"/>
<text x="315.6" y="346.25" font-size="8.2" text-anchor="middle" fill="#111" stroke="#111" stroke-width="0.14" font-weight="normal" >21</text>
<circle cx="59" cy="380.1" r="11.9" fill="#1cb9cb"/>
<text x="59" y="383.05" font-size="8.2" text-anchor="middle" fill="#fff" stroke="#fff" stroke-width="0.14" font-weight="normal" >788</text>
<circle cx="121.1" cy="380.1" r="4.25" fill="#1cb9cb"/>
<text x="135.4" y="383.05" font-size="8.2" text-anchor="middle" fill="#111" stroke="#111" stroke-width="0.14" font-weight="normal" >100</text>
<circle cx="183.9" cy="380.1" r="5.3" fill="#1cb9cb"/>
<text x="199.3" y="383.05" font-size="8.2" text-anchor="middle" fill="#111" stroke="#111" stroke-width="0.14" font-weight="normal" >156</text>
<circle cx="244.1" cy="380.1" r="1.8" fill="#1cb9cb"/>
<text x="256" y="383.05" font-size="8.2" text-anchor="middle" fill="#111" stroke="#111" stroke-width="0.14" font-weight="normal" >13</text>
<circle cx="304.2" cy="380.1" r="3.8" fill="#1cb9cb"/>
<text x="315.6" y="383.05" font-size="8.2" text-anchor="middle" fill="#111" stroke="#111" stroke-width="0.14" font-weight="normal" >55</text>
<circle cx="59" cy="404.5" r="9.8" fill="#2c7f9f"/>
<text x="59" y="407.45" font-size="8.2" text-anchor="middle" fill="#fff" stroke="#fff" stroke-width="0.14" font-weight="normal" >506</text>
<circle cx="121.1" cy="404.5" r="4.05" fill="#2c7f9f"/>
<text x="135.4" y="407.45" font-size="8.2" text-anchor="middle" fill="#111" stroke="#111" stroke-width="0.14" font-weight="normal" >79</text>
<circle cx="183.9" cy="404.5" r="4.9" fill="#2c7f9f"/>
<text x="199.3" y="407.45" font-size="8.2" text-anchor="middle" fill="#111" stroke="#111" stroke-width="0.14" font-weight="normal" >133</text>
<circle cx="244.1" cy="404.5" r="0.7" fill="#2c7f9f"/>
<text x="256" y="407.45" font-size="8.2" text-anchor="middle" fill="#111" stroke="#111" stroke-width="0.14" font-weight="normal" >3</text>
<circle cx="304.2" cy="404.5" r="2.0" fill="#2c7f9f"/>
<text x="315.6" y="407.45" font-size="8.2" text-anchor="middle" fill="#111" stroke="#111" stroke-width="0.14" font-weight="normal" >24</text>
<circle cx="59" cy="425.8" r="8.1" fill="#00f0ff"/>
<text x="59" y="428.75" font-size="8.2" text-anchor="middle" fill="#111" stroke="#111" stroke-width="0.14" font-weight="normal" >380</text>
<circle cx="121.1" cy="425.8" r="4.05" fill="#00f0ff"/>
<text x="135.4" y="428.75" font-size="8.2" text-anchor="middle" fill="#111" stroke="#111" stroke-width="0.14" font-weight="normal" >80</text>
<circle cx="183.9" cy="425.8" r="6.0" fill="#00f0ff"/>
<text x="199.3" y="428.75" font-size="8.2" text-anchor="middle" fill="#111" stroke="#111" stroke-width="0.14" font-weight="normal" >176</text>
<circle cx="244.1" cy="425.8" r="1.1" fill="#00f0ff"/>
<text x="256" y="428.75" font-size="8.2" text-anchor="middle" fill="#111" stroke="#111" stroke-width="0.14" font-weight="normal" >6</text>
<circle cx="304.2" cy="425.8" r="1.1" fill="#00f0ff"/>
<text x="315.6" y="428.75" font-size="8.2" text-anchor="middle" fill="#111" stroke="#111" stroke-width="0.14" font-weight="normal" >7</text>
<circle cx="59" cy="444.6" r="7.5" fill="#68e8d8"/>
<text x="59" y="447.55" font-size="8.2" text-anchor="middle" fill="#111" stroke="#111" stroke-width="0.14" font-weight="normal" >308</text>
<circle cx="121.1" cy="444.6" r="4.05" fill="#68e8d8"/>
<text x="135.4" y="447.55" font-size="8.2" text-anchor="middle" fill="#111" stroke="#111" stroke-width="0.14" font-weight="normal" >80</text>
<circle cx="183.9" cy="444.6" r="6.0" fill="#68e8d8"/>
<text x="199.3" y="447.55" font-size="8.2" text-anchor="middle" fill="#111" stroke="#111" stroke-width="0.14" font-weight="normal" >176</text>
<circle cx="244.1" cy="444.6" r="1.1" fill="#68e8d8"/>
<text x="256" y="447.55" font-size="8.2" text-anchor="middle" fill="#111" stroke="#111" stroke-width="0.14" font-weight="normal" >6</text>
<circle cx="304.2" cy="444.6" r="3.4" fill="#68e8d8"/>
<text x="315.6" y="447.55" font-size="8.2" text-anchor="middle" fill="#111" stroke="#111" stroke-width="0.14" font-weight="normal" >51</text>
<circle cx="59" cy="461.2" r="5.75" fill="#2a1fba"/>
<text x="72.3" y="464.15" font-size="8.2" text-anchor="middle" fill="#222" stroke="#222" stroke-width="0.14" font-weight="normal" >177</text>
<circle cx="121.1" cy="461.2" r="2.7" fill="#2a1fba"/>
<text x="135.4" y="464.15" font-size="8.2" text-anchor="middle" fill="#111" stroke="#111" stroke-width="0.14" font-weight="normal" >32</text>
<circle cx="183.9" cy="461.2" r="3.9" fill="#2a1fba"/>
<text x="199.3" y="464.15" font-size="8.2" text-anchor="middle" fill="#111" stroke="#111" stroke-width="0.14" font-weight="normal" >85</text>
<circle cx="244.1" cy="461.2" r="1.3" fill="#2a1fba"/>
<text x="256" y="464.15" font-size="8.2" text-anchor="middle" fill="#111" stroke="#111" stroke-width="0.14" font-weight="normal" >8</text>
<circle cx="304.2" cy="461.2" r="3.7" fill="#2a1fba"/>
<text x="315.6" y="464.15" font-size="8.2" text-anchor="middle" fill="#111" stroke="#111" stroke-width="0.14" font-weight="normal" >61</text>
<circle cx="59" cy="483.5" r="13.4" fill="#e8890e"/>
<text x="59" y="487.25" font-size="8.2" text-anchor="middle" fill="#111" stroke="#111" stroke-width="0.14" font-weight="normal" >977</text>
<circle cx="121.1" cy="483.5" r="5.3" fill="#e8890e"/>
<text x="135.4" y="486.45" font-size="8.2" text-anchor="middle" fill="#111" stroke="#111" stroke-width="0.14" font-weight="normal" >141</text>
<circle cx="183.9" cy="483.5" r="6.0" fill="#e8890e"/>
<text x="199.3" y="486.45" font-size="8.2" text-anchor="middle" fill="#111" stroke="#111" stroke-width="0.14" font-weight="normal" >196</text>
<circle cx="244.1" cy="483.5" r="1.0" fill="#e8890e"/>
<text x="256" y="486.45" font-size="8.2" text-anchor="middle" fill="#111" stroke="#111" stroke-width="0.14" font-weight="normal" >4</text>
<circle cx="304.2" cy="483.5" r="1.2" fill="#e8890e"/>
<text x="315.6" y="486.45" font-size="8.2" text-anchor="middle" fill="#111" stroke="#111" stroke-width="0.14" font-weight="normal" >8</text>
<circle cx="59" cy="505.8" r="5.7" fill="#f5cbcf"/>
<text x="74" y="508.75" font-size="8.2" text-anchor="middle" fill="#222" stroke="#222" stroke-width="0.14" font-weight="normal" >193</text>
<circle cx="121.1" cy="505.8" r="4.0" fill="#f5cbcf"/>
<text x="135.4" y="508.75" font-size="8.2" text-anchor="middle" fill="#111" stroke="#111" stroke-width="0.14" font-weight="normal" >71</text>
<circle cx="183.9" cy="505.8" r="5.4" fill="#f5cbcf"/>
<text x="199.3" y="508.75" font-size="8.2" text-anchor="middle" fill="#111" stroke="#111" stroke-width="0.14" font-weight="normal" >172</text>
<circle cx="244.1" cy="505.8" r="0.95" fill="#f5cbcf"/>
<text x="256" y="508.75" font-size="8.2" text-anchor="middle" fill="#111" stroke="#111" stroke-width="0.14" font-weight="normal" >4</text>
<circle cx="304.2" cy="505.8" r="0.9" fill="#f5cbcf"/>
<text x="315.6" y="508.75" font-size="8.2" text-anchor="middle" fill="#111" stroke="#111" stroke-width="0.14" font-weight="normal" >5</text>
<circle cx="59" cy="519.6" r="3.9" fill="#ee0a14"/>
<text x="74.7" y="522.5500000000001" font-size="8.2" text-anchor="middle" fill="#222" stroke="#222" stroke-width="0.14" font-weight="normal" >71</text>
<circle cx="121.1" cy="519.6" r="2.7" fill="#ee0a14"/>
<text x="135.4" y="522.5500000000001" font-size="8.2" text-anchor="middle" fill="#111" stroke="#111" stroke-width="0.14" font-weight="normal" >36</text>
<circle cx="183.9" cy="519.6" r="4.9" fill="#ee0a14"/>
<text x="199.3" y="522.5500000000001" font-size="8.2" text-anchor="middle" fill="#111" stroke="#111" stroke-width="0.14" font-weight="normal" >132</text>
<circle cx="244.1" cy="519.6" r="0.6" fill="#ee0a14"/>
<text x="256" y="522.5500000000001" font-size="8.2" text-anchor="middle" fill="#111" stroke="#111" stroke-width="0.14" font-weight="normal" >1</text>
<circle cx="304.2" cy="519.6" r="0.65" fill="#ee0a14"/>
<text x="315.6" y="522.5500000000001" font-size="8.2" text-anchor="middle" fill="#111" stroke="#111" stroke-width="0.14" font-weight="normal" >2</text>
<circle cx="59" cy="529.8" r="2.3" fill="#ef7a66"/>
<text x="74.7" y="532.75" font-size="8.2" text-anchor="middle" fill="#222" stroke="#222" stroke-width="0.14" font-weight="normal" >31</text>
<circle cx="121.1" cy="529.8" r="0.9" fill="#ef7a66"/>
<text x="135.4" y="532.75" font-size="8.2" text-anchor="middle" fill="#111" stroke="#111" stroke-width="0.14" font-weight="normal" >7</text>
<circle cx="183.9" cy="529.8" r="1.5" fill="#ef7a66"/>
<text x="199.3" y="532.75" font-size="8.2" text-anchor="middle" fill="#111" stroke="#111" stroke-width="0.14" font-weight="normal" >17</text>
<circle cx="244.1" cy="529.8" r="1.0" fill="#ef7a66"/>
<text x="256" y="532.75" font-size="8.2" text-anchor="middle" fill="#111" stroke="#111" stroke-width="0.14" font-weight="normal" >5</text>
<circle cx="304.2" cy="529.8" r="1.5" fill="#ef7a66"/>
<text x="315.6" y="532.75" font-size="8.2" text-anchor="middle" fill="#111" stroke="#111" stroke-width="0.14" font-weight="normal" >14</text>
<line x1="27.9" y1="268.2" x2="27.9" y2="466.6" stroke="#444" stroke-width="0.8"/>
<line x1="27.9" y1="470.3" x2="27.9" y2="535" stroke="#444" stroke-width="0.8"/>
<text transform="translate(22.8,370.8) rotate(-90)" font-size="8.2" text-anchor="middle" fill="#111" stroke="#111" stroke-width="0.14">Responders</text>
<text transform="translate(15.0,502) rotate(-90)" font-size="8.2" text-anchor="middle" fill="#111" stroke="#111" stroke-width="0.14">Non-</text>
<text transform="translate(23.0,502.2) rotate(-90)" font-size="8.2" text-anchor="middle" fill="#111" stroke="#111" stroke-width="0.14">responders</text>
<rect x="346.3" y="329.2" width="12.4" height="8.2" fill="#07699a"/>
<text x="362.9" y="336.7" font-size="8.2" text-anchor="start" fill="#111" stroke="#111" stroke-width="0.14" font-weight="normal" >Patient 1</text>
<rect x="346.3" y="340.4" width="12.4" height="8.2" fill="#4789e2"/>
<text x="362.9" y="347.93" font-size="8.2" text-anchor="start" fill="#111" stroke="#111" stroke-width="0.14" font-weight="normal" >Patient 2</text>
<rect x="346.3" y="351.7" width="12.4" height="8.2" fill="#1cb9cb"/>
<text x="362.9" y="359.15999999999997" font-size="8.2" text-anchor="start" fill="#111" stroke="#111" stroke-width="0.14" font-weight="normal" >Patient 3</text>
<rect x="346.3" y="362.9" width="12.4" height="8.2" fill="#2c7f9f"/>
<text x="362.9" y="370.39" font-size="8.2" text-anchor="start" fill="#111" stroke="#111" stroke-width="0.14" font-weight="normal" >Patient 4</text>
<rect x="346.3" y="374.1" width="12.4" height="8.2" fill="#00f0ff"/>
<text x="362.9" y="381.62" font-size="8.2" text-anchor="start" fill="#111" stroke="#111" stroke-width="0.14" font-weight="normal" >Patient 5</text>
<rect x="346.3" y="385.4" width="12.4" height="8.2" fill="#68e8d8"/>
<text x="362.9" y="392.85" font-size="8.2" text-anchor="start" fill="#111" stroke="#111" stroke-width="0.14" font-weight="normal" >Patient 6</text>
<rect x="346.3" y="396.6" width="12.4" height="8.2" fill="#2a1fba"/>
<text x="362.9" y="404.08" font-size="8.2" text-anchor="start" fill="#111" stroke="#111" stroke-width="0.14" font-weight="normal" >Patient 7</text>
<rect x="346.4" y="486.2" width="12.1" height="7.7" fill="#e8890e"/>
<text x="362.9" y="492.8" font-size="8.2" text-anchor="start" fill="#111" stroke="#111" stroke-width="0.14" font-weight="normal" >Patient 8</text>
<rect x="346.4" y="497.3" width="12.1" height="7.7" fill="#f5cbcf"/>
<text x="362.9" y="503.93" font-size="8.2" text-anchor="start" fill="#111" stroke="#111" stroke-width="0.14" font-weight="normal" >Patient 9</text>
<rect x="346.4" y="508.5" width="12.1" height="7.7" fill="#ee0a14"/>
<text x="362.9" y="515.06" font-size="8.2" text-anchor="start" fill="#111" stroke="#111" stroke-width="0.14" font-weight="normal" >Patient 10</text>
<rect x="346.4" y="519.6" width="12.1" height="7.7" fill="#ef7a66"/>
<text x="362.9" y="526.19" font-size="8.2" text-anchor="start" fill="#111" stroke="#111" stroke-width="0.14" font-weight="normal" >Patient 11</text>
<text x="432.3" y="299.3" font-size="8.5" text-anchor="start" fill="#000" stroke="#000" stroke-width="0" font-weight="bold" >c</text>
<path d="M481.6,299.5 L481.6,431.8 L542.8,431.8" fill="none" stroke="#333" stroke-width="0.9"/>
<line x1="478.6" y1="431.8" x2="481.6" y2="431.8" stroke="#333" stroke-width="0.9"/>
<text x="476.0" y="434.7" font-size="8.2" text-anchor="end" fill="#111" stroke="#111" stroke-width="0.14" font-weight="normal" >0</text>
<line x1="478.6" y1="405.3" x2="481.6" y2="405.3" stroke="#333" stroke-width="0.9"/>
<text x="476.0" y="408.24" font-size="8.2" text-anchor="end" fill="#111" stroke="#111" stroke-width="0.14" font-weight="normal" >2</text>
<line x1="478.6" y1="378.9" x2="481.6" y2="378.9" stroke="#333" stroke-width="0.9"/>
<text x="476.0" y="381.78" font-size="8.2" text-anchor="end" fill="#111" stroke="#111" stroke-width="0.14" font-weight="normal" >4</text>
<line x1="478.6" y1="352.4" x2="481.6" y2="352.4" stroke="#333" stroke-width="0.9"/>
<text x="476.0" y="355.32" font-size="8.2" text-anchor="end" fill="#111" stroke="#111" stroke-width="0.14" font-weight="normal" >6</text>
<line x1="478.6" y1="326.0" x2="481.6" y2="326.0" stroke="#333" stroke-width="0.9"/>
<text x="476.0" y="328.86" font-size="8.2" text-anchor="end" fill="#111" stroke="#111" stroke-width="0.14" font-weight="normal" >8</text>
<line x1="478.6" y1="299.5" x2="481.6" y2="299.5" stroke="#333" stroke-width="0.9"/>
<text x="476.0" y="302.4" font-size="8.2" text-anchor="end" fill="#111" stroke="#111" stroke-width="0.14" font-weight="normal" >10</text>
<line x1="498.9" y1="431.8" x2="498.9" y2="434.8" stroke="#333" stroke-width="0.9"/>
<line x1="524.8" y1="431.8" x2="524.8" y2="434.8" stroke="#333" stroke-width="0.9"/>
<line x1="498.8" y1="325.0" x2="498.8" y2="397.0" stroke="#111" stroke-width="1.3"/>
<line x1="494.40000000000003" y1="325.0" x2="503.2" y2="325.0" stroke="#111" stroke-width="1.3"/>
<line x1="494.40000000000003" y1="397.0" x2="503.2" y2="397.0" stroke="#111" stroke-width="1.3"/>
<line x1="489.8" y1="361.2" x2="507.8" y2="361.2" stroke="#111" stroke-width="1.3"/>
<line x1="524.9" y1="397.0" x2="524.9" y2="413.0" stroke="#111" stroke-width="1.3"/>
<line x1="520.5" y1="397.0" x2="529.3" y2="397.0" stroke="#111" stroke-width="1.3"/>
<line x1="520.5" y1="413.0" x2="529.3" y2="413.0" stroke="#111" stroke-width="1.3"/>
<line x1="516.1999999999999" y1="404.9" x2="533.6" y2="404.9" stroke="#111" stroke-width="1.3"/>
<circle cx="498.8" cy="319.3" r="2.95" fill="#3f9ff6"/>
<circle cx="503.2" cy="326.0" r="2.95" fill="#3f9ff6"/>
<circle cx="494.5" cy="331.3" r="2.95" fill="#3f9ff6"/>
<circle cx="494.5" cy="376.2" r="2.95" fill="#3f9ff6"/>
<circle cx="503.2" cy="376.2" r="2.95" fill="#3f9ff6"/>
<circle cx="498.8" cy="382.8" r="2.95" fill="#3f9ff6"/>
<circle cx="498.8" cy="415.9" r="2.95" fill="#3f9ff6"/>
<circle cx="524.9" cy="394.8" r="2.95" fill="#3f9ff6"/>
<circle cx="520.5" cy="404.9" r="2.95" fill="#3f9ff6"/>
<circle cx="529.2" cy="404.9" r="2.95" fill="#3f9ff6"/>
<circle cx="524.9" cy="414.6" r="2.95" fill="#3f9ff6"/>
<line x1="503.7" y1="307.3" x2="520" y2="307.3" stroke="#333" stroke-width="0.8"/>
<text x="511.7" y="306.6" font-size="8.2" text-anchor="middle" fill="#111" stroke="#111" stroke-width="0.14" font-weight="normal" >*</text>
<text transform="translate(458.2,365.7) rotate(-90)" font-size="8.2" text-anchor="middle" fill="#111" stroke="#111" stroke-width="0.14">TCR clonotypes/mutation targeted</text>
<text transform="translate(502.2,439.8) rotate(-45)" font-size="8.2" text-anchor="end" fill="#111" stroke="#111" stroke-width="0.14">Responder</text>
<text transform="translate(527.8,440.2) rotate(-45)" font-size="8.2" text-anchor="end" fill="#111" stroke="#111" stroke-width="0.14">Non-responder</text>
</g>
</svg>
</body></html>
